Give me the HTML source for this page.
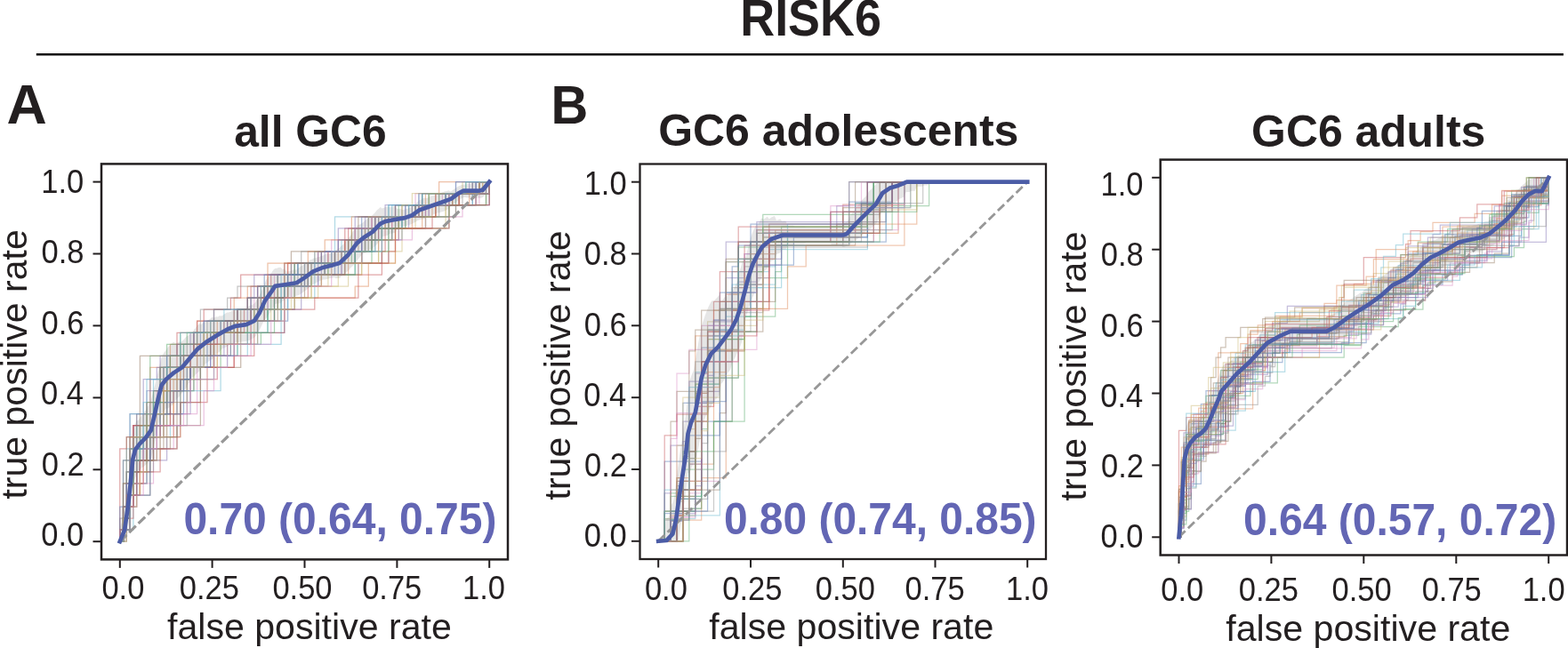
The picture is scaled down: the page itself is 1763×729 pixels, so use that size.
<!DOCTYPE html><html><head><meta charset="utf-8"><style>html,body{margin:0;padding:0;background:#fff;} svg{display:block} text{font-family:"Liberation Sans",Arial,sans-serif;}</style></head><body>
<svg width="1763" height="729" viewBox="0 0 1763 729">
<rect width="1763" height="729" fill="#fff"/>
<g clip-path="url(#clipA)">
<polyline points="134.8,609.2 138.5,609.2 138.5,596.1 142.3,596.1 142.3,583.1 142.3,570.0 149.9,570.0 149.9,557.0 149.9,543.9 153.7,543.9 153.7,530.9 157.4,530.9 157.4,517.8 172.5,517.8 172.5,504.8 172.5,491.7 180.1,491.7 180.1,478.7 180.1,465.6 199.0,465.6 199.0,452.6 199.0,439.5 206.5,439.5 206.5,426.5 210.3,426.5 210.3,413.4 233.0,413.4 233.0,400.4 255.6,400.4 255.6,387.3 282.1,387.3 282.1,374.3 319.8,374.3 319.8,361.2 319.8,348.2 319.8,335.1 319.8,322.1 357.6,322.1 357.6,309.0 380.3,309.0 380.3,296.0 399.2,296.0 399.2,282.9 410.5,282.9 410.5,269.9 452.0,269.9 452.0,256.8 452.0,243.8 463.4,243.8 463.4,230.7 535.1,230.7 535.1,217.7 546.5,217.7 546.5,204.6 550.2,204.6" fill="none" stroke="#4C72B0" stroke-opacity="0.5" stroke-width="1.25"/>
<polyline points="134.8,609.2 138.5,609.2 138.5,596.1 138.5,583.1 138.5,570.0 142.3,570.0 142.3,557.0 142.3,543.9 142.3,530.9 146.1,530.9 146.1,517.8 146.1,504.8 146.1,491.7 165.0,491.7 165.0,478.7 168.8,478.7 168.8,465.6 168.8,452.6 168.8,439.5 168.8,426.5 168.8,413.4 191.4,413.4 191.4,400.4 191.4,387.3 217.9,387.3 217.9,374.3 221.6,374.3 221.6,361.2 240.5,361.2 240.5,348.2 263.2,348.2 263.2,335.1 278.3,335.1 278.3,322.1 319.8,322.1 319.8,309.0 323.6,309.0 323.6,296.0 353.8,296.0 353.8,282.9 391.6,282.9 391.6,269.9 399.2,269.9 399.2,256.8 433.1,256.8 433.1,243.8 478.5,243.8 478.5,230.7 478.5,217.7 542.7,217.7 542.7,204.6 550.2,204.6" fill="none" stroke="#DD8452" stroke-opacity="0.5" stroke-width="1.25"/>
<polyline points="134.8,609.2 138.5,609.2 138.5,596.1 142.3,596.1 142.3,583.1 142.3,570.0 142.3,557.0 142.3,543.9 142.3,530.9 149.9,530.9 149.9,517.8 149.9,504.8 149.9,491.7 153.7,491.7 153.7,478.7 187.6,478.7 187.6,465.6 191.4,465.6 191.4,452.6 191.4,439.5 202.8,439.5 202.8,426.5 225.4,426.5 225.4,413.4 240.5,413.4 240.5,400.4 267.0,400.4 267.0,387.3 293.4,387.3 293.4,374.3 301.0,374.3 301.0,361.2 301.0,348.2 331.2,348.2 331.2,335.1 331.2,322.1 361.4,322.1 361.4,309.0 387.8,309.0 387.8,296.0 387.8,282.9 410.5,282.9 410.5,269.9 410.5,256.8 452.0,256.8 452.0,243.8 463.4,243.8 463.4,230.7 508.7,230.7 508.7,217.7 550.2,217.7 550.2,204.6" fill="none" stroke="#55A868" stroke-opacity="0.5" stroke-width="1.25"/>
<polyline points="134.8,609.2 138.5,609.2 138.5,596.1 142.3,596.1 142.3,583.1 146.1,583.1 146.1,570.0 146.1,557.0 149.9,557.0 149.9,543.9 149.9,530.9 149.9,517.8 149.9,504.8 149.9,491.7 149.9,478.7 180.1,478.7 180.1,465.6 202.8,465.6 202.8,452.6 202.8,439.5 202.8,426.5 214.1,426.5 214.1,413.4 263.2,413.4 263.2,400.4 263.2,387.3 263.2,374.3 263.2,361.2 263.2,348.2 278.3,348.2 278.3,335.1 282.1,335.1 282.1,322.1 304.7,322.1 304.7,309.0 319.8,309.0 319.8,296.0 357.6,296.0 357.6,282.9 387.8,282.9 387.8,269.9 391.6,269.9 391.6,256.8 425.6,256.8 425.6,243.8 459.6,243.8 459.6,230.7 516.2,230.7 516.2,217.7 538.9,217.7 538.9,204.6 550.2,204.6" fill="none" stroke="#C44E52" stroke-opacity="0.5" stroke-width="1.25"/>
<polyline points="134.8,609.2 138.5,609.2 138.5,596.1 138.5,583.1 138.5,570.0 142.3,570.0 142.3,557.0 142.3,543.9 142.3,530.9 149.9,530.9 149.9,517.8 149.9,504.8 149.9,491.7 149.9,478.7 153.7,478.7 153.7,465.6 187.6,465.6 187.6,452.6 187.6,439.5 187.6,426.5 187.6,413.4 187.6,400.4 217.9,400.4 217.9,387.3 217.9,374.3 229.2,374.3 229.2,361.2 278.3,361.2 278.3,348.2 301.0,348.2 301.0,335.1 308.5,335.1 308.5,322.1 342.5,322.1 342.5,309.0 353.8,309.0 353.8,296.0 376.5,296.0 376.5,282.9 399.2,282.9 399.2,269.9 418.0,269.9 418.0,256.8 436.9,256.8 436.9,243.8 478.5,243.8 478.5,230.7 516.2,230.7 516.2,217.7 527.6,217.7 527.6,204.6 550.2,204.6" fill="none" stroke="#8172B3" stroke-opacity="0.5" stroke-width="1.25"/>
<polyline points="134.8,609.2 138.5,609.2 138.5,596.1 146.1,596.1 146.1,583.1 146.1,570.0 146.1,557.0 168.8,557.0 168.8,543.9 168.8,530.9 168.8,517.8 168.8,504.8 168.8,491.7 168.8,478.7 191.4,478.7 191.4,465.6 191.4,452.6 225.4,452.6 225.4,439.5 225.4,426.5 225.4,413.4 240.5,413.4 240.5,400.4 240.5,387.3 278.3,387.3 278.3,374.3 278.3,361.2 316.1,361.2 316.1,348.2 316.1,335.1 342.5,335.1 342.5,322.1 350.1,322.1 350.1,309.0 350.1,296.0 376.5,296.0 376.5,282.9 391.6,282.9 391.6,269.9 414.3,269.9 414.3,256.8 418.0,256.8 418.0,243.8 512.5,243.8 512.5,230.7 512.5,217.7 550.2,217.7 550.2,204.6" fill="none" stroke="#937860" stroke-opacity="0.5" stroke-width="1.25"/>
<polyline points="134.8,609.2 138.5,609.2 138.5,596.1 138.5,583.1 146.1,583.1 146.1,570.0 146.1,557.0 149.9,557.0 149.9,543.9 153.7,543.9 153.7,530.9 153.7,517.8 168.8,517.8 168.8,504.8 168.8,491.7 176.3,491.7 176.3,478.7 176.3,465.6 176.3,452.6 176.3,439.5 199.0,439.5 199.0,426.5 199.0,413.4 202.8,413.4 202.8,400.4 233.0,400.4 233.0,387.3 251.9,387.3 251.9,374.3 267.0,374.3 267.0,361.2 267.0,348.2 301.0,348.2 301.0,335.1 304.7,335.1 304.7,322.1 308.5,322.1 308.5,309.0 365.2,309.0 365.2,296.0 368.9,296.0 368.9,282.9 372.7,282.9 372.7,269.9 406.7,269.9 406.7,256.8 418.0,256.8 418.0,243.8 463.4,243.8 463.4,230.7 467.1,230.7 467.1,217.7 550.2,217.7 550.2,204.6" fill="none" stroke="#DA8BC3" stroke-opacity="0.5" stroke-width="1.25"/>
<polyline points="134.8,609.2 138.5,609.2 138.5,596.1 142.3,596.1 142.3,583.1 146.1,583.1 146.1,570.0 149.9,570.0 149.9,557.0 149.9,543.9 153.7,543.9 153.7,530.9 153.7,517.8 153.7,504.8 157.4,504.8 157.4,491.7 172.5,491.7 172.5,478.7 172.5,465.6 172.5,452.6 183.9,452.6 183.9,439.5 183.9,426.5 183.9,413.4 202.8,413.4 202.8,400.4 202.8,387.3 229.2,387.3 229.2,374.3 248.1,374.3 248.1,361.2 297.2,361.2 297.2,348.2 297.2,335.1 297.2,322.1 334.9,322.1 334.9,309.0 334.9,296.0 436.9,296.0 436.9,282.9 436.9,269.9 436.9,256.8 448.3,256.8 448.3,243.8 470.9,243.8 470.9,230.7 482.2,230.7 482.2,217.7 550.2,217.7 550.2,204.6" fill="none" stroke="#8C8C8C" stroke-opacity="0.5" stroke-width="1.25"/>
<polyline points="134.8,609.2 134.8,596.1 142.3,596.1 142.3,583.1 146.1,583.1 146.1,570.0 146.1,557.0 146.1,543.9 153.7,543.9 153.7,530.9 153.7,517.8 180.1,517.8 180.1,504.8 187.6,504.8 187.6,491.7 202.8,491.7 202.8,478.7 202.8,465.6 202.8,452.6 202.8,439.5 210.3,439.5 210.3,426.5 240.5,426.5 240.5,413.4 240.5,400.4 240.5,387.3 240.5,374.3 270.7,374.3 270.7,361.2 285.8,361.2 285.8,348.2 308.5,348.2 308.5,335.1 323.6,335.1 323.6,322.1 391.6,322.1 391.6,309.0 406.7,309.0 406.7,296.0 425.6,296.0 425.6,282.9 452.0,282.9 452.0,269.9 452.0,256.8 501.1,256.8 501.1,243.8 501.1,230.7 508.7,230.7 508.7,217.7 550.2,217.7 550.2,204.6" fill="none" stroke="#CCB974" stroke-opacity="0.5" stroke-width="1.25"/>
<polyline points="134.8,609.2 138.5,609.2 138.5,596.1 138.5,583.1 138.5,570.0 138.5,557.0 138.5,543.9 142.3,543.9 142.3,530.9 142.3,517.8 142.3,504.8 153.7,504.8 153.7,491.7 153.7,478.7 172.5,478.7 172.5,465.6 180.1,465.6 180.1,452.6 180.1,439.5 180.1,426.5 180.1,413.4 206.5,413.4 206.5,400.4 206.5,387.3 236.7,387.3 236.7,374.3 289.6,374.3 289.6,361.2 289.6,348.2 289.6,335.1 289.6,322.1 331.2,322.1 331.2,309.0 334.9,309.0 334.9,296.0 361.4,296.0 361.4,282.9 384.0,282.9 384.0,269.9 406.7,269.9 406.7,256.8 425.6,256.8 425.6,243.8 440.7,243.8 440.7,230.7 474.7,230.7 474.7,217.7 538.9,217.7 538.9,204.6 550.2,204.6" fill="none" stroke="#64B5CD" stroke-opacity="0.5" stroke-width="1.25"/>
<polyline points="134.8,609.2 138.5,609.2 138.5,596.1 142.3,596.1 142.3,583.1 146.1,583.1 146.1,570.0 146.1,557.0 153.7,557.0 153.7,543.9 153.7,530.9 157.4,530.9 157.4,517.8 165.0,517.8 165.0,504.8 165.0,491.7 168.8,491.7 168.8,478.7 172.5,478.7 172.5,465.6 187.6,465.6 187.6,452.6 187.6,439.5 187.6,426.5 187.6,413.4 206.5,413.4 206.5,400.4 240.5,400.4 240.5,387.3 240.5,374.3 240.5,361.2 297.2,361.2 297.2,348.2 297.2,335.1 297.2,322.1 342.5,322.1 342.5,309.0 384.0,309.0 384.0,296.0 384.0,282.9 414.3,282.9 414.3,269.9 425.6,269.9 425.6,256.8 478.5,256.8 478.5,243.8 482.2,243.8 482.2,230.7 531.3,230.7 531.3,217.7 535.1,217.7 535.1,204.6 550.2,204.6" fill="none" stroke="#4C72B0" stroke-opacity="0.5" stroke-width="1.25"/>
<polyline points="134.8,609.2 138.5,609.2 138.5,596.1 142.3,596.1 142.3,583.1 146.1,583.1 146.1,570.0 146.1,557.0 146.1,543.9 146.1,530.9 146.1,517.8 149.9,517.8 149.9,504.8 161.2,504.8 161.2,491.7 165.0,491.7 165.0,478.7 195.2,478.7 195.2,465.6 195.2,452.6 195.2,439.5 195.2,426.5 244.3,426.5 244.3,413.4 244.3,400.4 244.3,387.3 248.1,387.3 248.1,374.3 251.9,374.3 251.9,361.2 297.2,361.2 297.2,348.2 297.2,335.1 297.2,322.1 319.8,322.1 319.8,309.0 331.2,309.0 331.2,296.0 384.0,296.0 384.0,282.9 387.8,282.9 387.8,269.9 448.3,269.9 448.3,256.8 463.4,256.8 463.4,243.8 474.7,243.8 474.7,230.7 535.1,230.7 535.1,217.7 550.2,217.7 550.2,204.6" fill="none" stroke="#DD8452" stroke-opacity="0.5" stroke-width="1.25"/>
<polyline points="134.8,609.2 138.5,609.2 138.5,596.1 138.5,583.1 146.1,583.1 146.1,570.0 146.1,557.0 146.1,543.9 149.9,543.9 149.9,530.9 157.4,530.9 157.4,517.8 157.4,504.8 168.8,504.8 168.8,491.7 168.8,478.7 168.8,465.6 168.8,452.6 168.8,439.5 168.8,426.5 168.8,413.4 168.8,400.4 187.6,400.4 187.6,387.3 202.8,387.3 202.8,374.3 259.4,374.3 259.4,361.2 301.0,361.2 301.0,348.2 304.7,348.2 304.7,335.1 304.7,322.1 331.2,322.1 331.2,309.0 365.2,309.0 365.2,296.0 406.7,296.0 406.7,282.9 436.9,282.9 436.9,269.9 436.9,256.8 436.9,243.8 470.9,243.8 470.9,230.7 493.6,230.7 493.6,217.7 523.8,217.7 523.8,204.6 550.2,204.6" fill="none" stroke="#55A868" stroke-opacity="0.5" stroke-width="1.25"/>
<polyline points="134.8,609.2 138.5,609.2 138.5,596.1 146.1,596.1 146.1,583.1 146.1,570.0 149.9,570.0 149.9,557.0 149.9,543.9 149.9,530.9 149.9,517.8 149.9,504.8 149.9,491.7 149.9,478.7 165.0,478.7 165.0,465.6 180.1,465.6 180.1,452.6 180.1,439.5 183.9,439.5 183.9,426.5 183.9,413.4 221.6,413.4 221.6,400.4 236.7,400.4 236.7,387.3 240.5,387.3 240.5,374.3 255.6,374.3 255.6,361.2 289.6,361.2 289.6,348.2 289.6,335.1 289.6,322.1 301.0,322.1 301.0,309.0 342.5,309.0 342.5,296.0 361.4,296.0 361.4,282.9 425.6,282.9 425.6,269.9 425.6,256.8 440.7,256.8 440.7,243.8 489.8,243.8 489.8,230.7 508.7,230.7 508.7,217.7 538.9,217.7 538.9,204.6 550.2,204.6" fill="none" stroke="#C44E52" stroke-opacity="0.5" stroke-width="1.25"/>
<polyline points="134.8,609.2 138.5,609.2 138.5,596.1 138.5,583.1 146.1,583.1 146.1,570.0 146.1,557.0 149.9,557.0 149.9,543.9 153.7,543.9 153.7,530.9 153.7,517.8 187.6,517.8 187.6,504.8 187.6,491.7 187.6,478.7 187.6,465.6 214.1,465.6 214.1,452.6 214.1,439.5 214.1,426.5 214.1,413.4 214.1,400.4 214.1,387.3 214.1,374.3 267.0,374.3 267.0,361.2 267.0,348.2 278.3,348.2 278.3,335.1 301.0,335.1 301.0,322.1 327.4,322.1 327.4,309.0 357.6,309.0 357.6,296.0 406.7,296.0 406.7,282.9 406.7,269.9 448.3,269.9 448.3,256.8 459.6,256.8 459.6,243.8 467.1,243.8 467.1,230.7 550.2,230.7 550.2,217.7 550.2,204.6" fill="none" stroke="#8172B3" stroke-opacity="0.5" stroke-width="1.25"/>
<polyline points="134.8,609.2 134.8,596.1 138.5,596.1 138.5,583.1 142.3,583.1 142.3,570.0 146.1,570.0 146.1,557.0 157.4,557.0 157.4,543.9 157.4,530.9 157.4,517.8 168.8,517.8 168.8,504.8 191.4,504.8 191.4,491.7 199.0,491.7 199.0,478.7 202.8,478.7 202.8,465.6 202.8,452.6 210.3,452.6 210.3,439.5 210.3,426.5 214.1,426.5 214.1,413.4 214.1,400.4 240.5,400.4 240.5,387.3 240.5,374.3 240.5,361.2 267.0,361.2 267.0,348.2 312.3,348.2 312.3,335.1 312.3,322.1 312.3,309.0 319.8,309.0 319.8,296.0 327.4,296.0 327.4,282.9 402.9,282.9 402.9,269.9 421.8,269.9 421.8,256.8 436.9,256.8 436.9,243.8 470.9,243.8 470.9,230.7 501.1,230.7 501.1,217.7 550.2,217.7 550.2,204.6" fill="none" stroke="#937860" stroke-opacity="0.5" stroke-width="1.25"/>
<polyline points="134.8,609.2 138.5,609.2 138.5,596.1 142.3,596.1 142.3,583.1 142.3,570.0 153.7,570.0 153.7,557.0 153.7,543.9 153.7,530.9 153.7,517.8 165.0,517.8 165.0,504.8 165.0,491.7 168.8,491.7 168.8,478.7 168.8,465.6 168.8,452.6 168.8,439.5 168.8,426.5 180.1,426.5 180.1,413.4 202.8,413.4 202.8,400.4 221.6,400.4 221.6,387.3 221.6,374.3 270.7,374.3 270.7,361.2 282.1,361.2 282.1,348.2 285.8,348.2 285.8,335.1 319.8,335.1 319.8,322.1 327.4,322.1 327.4,309.0 327.4,296.0 380.3,296.0 380.3,282.9 410.5,282.9 410.5,269.9 410.5,256.8 444.5,256.8 444.5,243.8 478.5,243.8 478.5,230.7 497.4,230.7 497.4,217.7 531.3,217.7 531.3,204.6 550.2,204.6" fill="none" stroke="#DA8BC3" stroke-opacity="0.5" stroke-width="1.25"/>
<polyline points="134.8,609.2 134.8,596.1 134.8,583.1 138.5,583.1 138.5,570.0 146.1,570.0 146.1,557.0 146.1,543.9 146.1,530.9 153.7,530.9 153.7,517.8 153.7,504.8 153.7,491.7 153.7,478.7 153.7,465.6 187.6,465.6 187.6,452.6 187.6,439.5 187.6,426.5 187.6,413.4 191.4,413.4 191.4,400.4 217.9,400.4 217.9,387.3 217.9,374.3 255.6,374.3 255.6,361.2 289.6,361.2 289.6,348.2 293.4,348.2 293.4,335.1 323.6,335.1 323.6,322.1 342.5,322.1 342.5,309.0 350.1,309.0 350.1,296.0 372.7,296.0 372.7,282.9 380.3,282.9 380.3,269.9 421.8,269.9 421.8,256.8 421.8,243.8 512.5,243.8 512.5,230.7 535.1,230.7 535.1,217.7 538.9,217.7 538.9,204.6 550.2,204.6" fill="none" stroke="#8C8C8C" stroke-opacity="0.5" stroke-width="1.25"/>
<polyline points="134.8,609.2 142.3,609.2 142.3,596.1 142.3,583.1 146.1,583.1 146.1,570.0 149.9,570.0 149.9,557.0 157.4,557.0 157.4,543.9 157.4,530.9 157.4,517.8 165.0,517.8 165.0,504.8 168.8,504.8 168.8,491.7 187.6,491.7 187.6,478.7 187.6,465.6 187.6,452.6 187.6,439.5 187.6,426.5 202.8,426.5 202.8,413.4 244.3,413.4 244.3,400.4 248.1,400.4 248.1,387.3 267.0,387.3 267.0,374.3 285.8,374.3 285.8,361.2 304.7,361.2 304.7,348.2 319.8,348.2 319.8,335.1 357.6,335.1 357.6,322.1 380.3,322.1 380.3,309.0 406.7,309.0 406.7,296.0 444.5,296.0 444.5,282.9 444.5,269.9 444.5,256.8 448.3,256.8 448.3,243.8 501.1,243.8 501.1,230.7 512.5,230.7 512.5,217.7 520.0,217.7 520.0,204.6 550.2,204.6" fill="none" stroke="#CCB974" stroke-opacity="0.5" stroke-width="1.25"/>
<polyline points="134.8,609.2 138.5,609.2 138.5,596.1 138.5,583.1 146.1,583.1 146.1,570.0 146.1,557.0 146.1,543.9 149.9,543.9 149.9,530.9 149.9,517.8 149.9,504.8 161.2,504.8 161.2,491.7 161.2,478.7 180.1,478.7 180.1,465.6 180.1,452.6 191.4,452.6 191.4,439.5 191.4,426.5 240.5,426.5 240.5,413.4 240.5,400.4 267.0,400.4 267.0,387.3 267.0,374.3 289.6,374.3 289.6,361.2 316.1,361.2 316.1,348.2 316.1,335.1 316.1,322.1 357.6,322.1 357.6,309.0 365.2,309.0 365.2,296.0 399.2,296.0 399.2,282.9 399.2,269.9 414.3,269.9 414.3,256.8 414.3,243.8 436.9,243.8 436.9,230.7 470.9,230.7 470.9,217.7 531.3,217.7 531.3,204.6 550.2,204.6" fill="none" stroke="#64B5CD" stroke-opacity="0.5" stroke-width="1.25"/>
<polyline points="134.8,609.2 138.5,609.2 138.5,596.1 142.3,596.1 142.3,583.1 142.3,570.0 142.3,557.0 142.3,543.9 165.0,543.9 165.0,530.9 165.0,517.8 168.8,517.8 168.8,504.8 172.5,504.8 172.5,491.7 172.5,478.7 172.5,465.6 187.6,465.6 187.6,452.6 187.6,439.5 202.8,439.5 202.8,426.5 214.1,426.5 214.1,413.4 240.5,413.4 240.5,400.4 259.4,400.4 259.4,387.3 289.6,387.3 289.6,374.3 289.6,361.2 323.6,361.2 323.6,348.2 323.6,335.1 323.6,322.1 323.6,309.0 331.2,309.0 331.2,296.0 387.8,296.0 387.8,282.9 410.5,282.9 410.5,269.9 429.4,269.9 429.4,256.8 429.4,243.8 474.7,243.8 474.7,230.7 501.1,230.7 501.1,217.7 535.1,217.7 535.1,204.6 550.2,204.6" fill="none" stroke="#4C72B0" stroke-opacity="0.5" stroke-width="1.25"/>
<polyline points="134.8,609.2 134.8,596.1 138.5,596.1 138.5,583.1 138.5,570.0 138.5,557.0 138.5,543.9 153.7,543.9 153.7,530.9 153.7,517.8 172.5,517.8 172.5,504.8 172.5,491.7 172.5,478.7 172.5,465.6 172.5,452.6 172.5,439.5 191.4,439.5 191.4,426.5 191.4,413.4 191.4,400.4 199.0,400.4 199.0,387.3 233.0,387.3 233.0,374.3 244.3,374.3 244.3,361.2 282.1,361.2 282.1,348.2 297.2,348.2 297.2,335.1 323.6,335.1 323.6,322.1 361.4,322.1 361.4,309.0 391.6,309.0 391.6,296.0 391.6,282.9 395.4,282.9 395.4,269.9 429.4,269.9 429.4,256.8 448.3,256.8 448.3,243.8 489.8,243.8 489.8,230.7 489.8,217.7 493.6,217.7 493.6,204.6 550.2,204.6" fill="none" stroke="#DD8452" stroke-opacity="0.5" stroke-width="1.25"/>
<polyline points="134.8,609.2 138.5,609.2 138.5,596.1 138.5,583.1 138.5,570.0 138.5,557.0 138.5,543.9 138.5,530.9 138.5,517.8 157.4,517.8 157.4,504.8 157.4,491.7 172.5,491.7 172.5,478.7 172.5,465.6 172.5,452.6 172.5,439.5 217.9,439.5 217.9,426.5 217.9,413.4 248.1,413.4 248.1,400.4 248.1,387.3 251.9,387.3 251.9,374.3 278.3,374.3 278.3,361.2 301.0,361.2 301.0,348.2 312.3,348.2 312.3,335.1 312.3,322.1 312.3,309.0 331.2,309.0 331.2,296.0 395.4,296.0 395.4,282.9 395.4,269.9 395.4,256.8 444.5,256.8 444.5,243.8 444.5,230.7 474.7,230.7 474.7,217.7 550.2,217.7 550.2,204.6" fill="none" stroke="#55A868" stroke-opacity="0.5" stroke-width="1.25"/>
<polyline points="134.8,609.2 134.8,596.1 134.8,583.1 134.8,570.0 134.8,557.0 134.8,543.9 134.8,530.9 134.8,517.8 134.8,504.8 142.3,504.8 142.3,491.7 149.9,491.7 149.9,478.7 161.2,478.7 161.2,465.6 165.0,465.6 165.0,452.6 180.1,452.6 180.1,439.5 180.1,426.5 180.1,413.4 199.0,413.4 199.0,400.4 199.0,387.3 199.0,374.3 221.6,374.3 221.6,361.2 229.2,361.2 229.2,348.2 259.4,348.2 259.4,335.1 270.7,335.1 270.7,322.1 270.7,309.0 323.6,309.0 323.6,296.0 368.9,296.0 368.9,282.9 387.8,282.9 387.8,269.9 387.8,256.8 421.8,256.8 421.8,243.8 444.5,243.8 444.5,230.7 489.8,230.7 489.8,217.7 538.9,217.7 538.9,204.6 550.2,204.6" fill="none" stroke="#C44E52" stroke-opacity="0.5" stroke-width="1.25"/>
<polyline points="134.8,609.2 138.5,609.2 138.5,596.1 142.3,596.1 142.3,583.1 146.1,583.1 146.1,570.0 146.1,557.0 146.1,543.9 146.1,530.9 146.1,517.8 146.1,504.8 149.9,504.8 149.9,491.7 165.0,491.7 165.0,478.7 165.0,465.6 165.0,452.6 165.0,439.5 180.1,439.5 180.1,426.5 187.6,426.5 187.6,413.4 187.6,400.4 251.9,400.4 251.9,387.3 251.9,374.3 251.9,361.2 267.0,361.2 267.0,348.2 282.1,348.2 282.1,335.1 285.8,335.1 285.8,322.1 285.8,309.0 346.3,309.0 346.3,296.0 357.6,296.0 357.6,282.9 399.2,282.9 399.2,269.9 410.5,269.9 410.5,256.8 410.5,243.8 433.1,243.8 433.1,230.7 470.9,230.7 470.9,217.7 535.1,217.7 535.1,204.6 550.2,204.6" fill="none" stroke="#8172B3" stroke-opacity="0.5" stroke-width="1.25"/>
<polyline points="134.8,609.2 138.5,609.2 138.5,596.1 138.5,583.1 142.3,583.1 142.3,570.0 146.1,570.0 146.1,557.0 146.1,543.9 149.9,543.9 149.9,530.9 168.8,530.9 168.8,517.8 172.5,517.8 172.5,504.8 183.9,504.8 183.9,491.7 183.9,478.7 225.4,478.7 225.4,465.6 225.4,452.6 225.4,439.5 225.4,426.5 225.4,413.4 270.7,413.4 270.7,400.4 270.7,387.3 270.7,374.3 270.7,361.2 312.3,361.2 312.3,348.2 312.3,335.1 312.3,322.1 346.3,322.1 346.3,309.0 346.3,296.0 399.2,296.0 399.2,282.9 418.0,282.9 418.0,269.9 418.0,256.8 433.1,256.8 433.1,243.8 452.0,243.8 452.0,230.7 516.2,230.7 516.2,217.7 550.2,217.7 550.2,204.6" fill="none" stroke="#937860" stroke-opacity="0.5" stroke-width="1.25"/>
<polyline points="134.8,609.2 138.5,609.2 138.5,596.1 146.1,596.1 146.1,583.1 146.1,570.0 153.7,570.0 153.7,557.0 153.7,543.9 172.5,543.9 172.5,530.9 172.5,517.8 172.5,504.8 195.2,504.8 195.2,491.7 195.2,478.7 195.2,465.6 221.6,465.6 221.6,452.6 221.6,439.5 221.6,426.5 221.6,413.4 221.6,400.4 221.6,387.3 244.3,387.3 244.3,374.3 259.4,374.3 259.4,361.2 285.8,361.2 285.8,348.2 297.2,348.2 297.2,335.1 297.2,322.1 361.4,322.1 361.4,309.0 402.9,309.0 402.9,296.0 429.4,296.0 429.4,282.9 429.4,269.9 463.4,269.9 463.4,256.8 478.5,256.8 478.5,243.8 482.2,243.8 482.2,230.7 538.9,230.7 538.9,217.7 550.2,217.7 550.2,204.6" fill="none" stroke="#DA8BC3" stroke-opacity="0.5" stroke-width="1.25"/>
<polyline points="134.8,609.2 138.5,609.2 138.5,596.1 138.5,583.1 146.1,583.1 146.1,570.0 153.7,570.0 153.7,557.0 153.7,543.9 165.0,543.9 165.0,530.9 172.5,530.9 172.5,517.8 172.5,504.8 199.0,504.8 199.0,491.7 199.0,478.7 210.3,478.7 210.3,465.6 210.3,452.6 210.3,439.5 210.3,426.5 210.3,413.4 229.2,413.4 229.2,400.4 229.2,387.3 233.0,387.3 233.0,374.3 233.0,361.2 263.2,361.2 263.2,348.2 289.6,348.2 289.6,335.1 289.6,322.1 323.6,322.1 323.6,309.0 327.4,309.0 327.4,296.0 361.4,296.0 361.4,282.9 421.8,282.9 421.8,269.9 440.7,269.9 440.7,256.8 455.8,256.8 455.8,243.8 493.6,243.8 493.6,230.7 550.2,230.7 550.2,217.7 550.2,204.6" fill="none" stroke="#8C8C8C" stroke-opacity="0.5" stroke-width="1.25"/>
<polyline points="134.8,609.2 138.5,609.2 138.5,596.1 142.3,596.1 142.3,583.1 142.3,570.0 142.3,557.0 142.3,543.9 161.2,543.9 161.2,530.9 161.2,517.8 161.2,504.8 165.0,504.8 165.0,491.7 172.5,491.7 172.5,478.7 176.3,478.7 176.3,465.6 183.9,465.6 183.9,452.6 183.9,439.5 214.1,439.5 214.1,426.5 217.9,426.5 217.9,413.4 240.5,413.4 240.5,400.4 255.6,400.4 255.6,387.3 289.6,387.3 289.6,374.3 289.6,361.2 308.5,361.2 308.5,348.2 308.5,335.1 308.5,322.1 368.9,322.1 368.9,309.0 368.9,296.0 380.3,296.0 380.3,282.9 410.5,282.9 410.5,269.9 410.5,256.8 467.1,256.8 467.1,243.8 467.1,230.7 482.2,230.7 482.2,217.7 531.3,217.7 531.3,204.6 550.2,204.6" fill="none" stroke="#CCB974" stroke-opacity="0.5" stroke-width="1.25"/>
<polyline points="134.8,609.2 138.5,609.2 138.5,596.1 149.9,596.1 149.9,583.1 149.9,570.0 149.9,557.0 153.7,557.0 153.7,543.9 153.7,530.9 153.7,517.8 157.4,517.8 157.4,504.8 180.1,504.8 180.1,491.7 191.4,491.7 191.4,478.7 202.8,478.7 202.8,465.6 202.8,452.6 202.8,439.5 248.1,439.5 248.1,426.5 248.1,413.4 255.6,413.4 255.6,400.4 278.3,400.4 278.3,387.3 316.1,387.3 316.1,374.3 316.1,361.2 316.1,348.2 323.6,348.2 323.6,335.1 353.8,335.1 353.8,322.1 353.8,309.0 399.2,309.0 399.2,296.0 399.2,282.9 421.8,282.9 421.8,269.9 440.7,269.9 440.7,256.8 452.0,256.8 452.0,243.8 459.6,243.8 459.6,230.7 531.3,230.7 531.3,217.7 538.9,217.7 538.9,204.6 550.2,204.6" fill="none" stroke="#64B5CD" stroke-opacity="0.5" stroke-width="1.25"/>
<polyline points="134.8,609.2 134.8,596.1 134.8,583.1 134.8,570.0 142.3,570.0 142.3,557.0 142.3,543.9 146.1,543.9 146.1,530.9 146.1,517.8 161.2,517.8 161.2,504.8 161.2,491.7 176.3,491.7 176.3,478.7 195.2,478.7 195.2,465.6 206.5,465.6 206.5,452.6 206.5,439.5 206.5,426.5 206.5,413.4 206.5,400.4 225.4,400.4 225.4,387.3 225.4,374.3 229.2,374.3 229.2,361.2 240.5,361.2 240.5,348.2 278.3,348.2 278.3,335.1 297.2,335.1 297.2,322.1 297.2,309.0 334.9,309.0 334.9,296.0 406.7,296.0 406.7,282.9 406.7,269.9 414.3,269.9 414.3,256.8 421.8,256.8 421.8,243.8 467.1,243.8 467.1,230.7 504.9,230.7 504.9,217.7 550.2,217.7 550.2,204.6" fill="none" stroke="#4C72B0" stroke-opacity="0.5" stroke-width="1.25"/>
<polyline points="134.8,609.2 138.5,609.2 138.5,596.1 142.3,596.1 142.3,583.1 142.3,570.0 149.9,570.0 149.9,557.0 157.4,557.0 157.4,543.9 157.4,530.9 161.2,530.9 161.2,517.8 176.3,517.8 176.3,504.8 180.1,504.8 180.1,491.7 195.2,491.7 195.2,478.7 195.2,465.6 195.2,452.6 195.2,439.5 202.8,439.5 202.8,426.5 202.8,413.4 240.5,413.4 240.5,400.4 240.5,387.3 282.1,387.3 282.1,374.3 282.1,361.2 308.5,361.2 308.5,348.2 331.2,348.2 331.2,335.1 399.2,335.1 399.2,322.1 414.3,322.1 414.3,309.0 414.3,296.0 444.5,296.0 444.5,282.9 444.5,269.9 444.5,256.8 474.7,256.8 474.7,243.8 486.0,243.8 486.0,230.7 527.6,230.7 527.6,217.7 538.9,217.7 538.9,204.6 550.2,204.6" fill="none" stroke="#DD8452" stroke-opacity="0.5" stroke-width="1.25"/>
<polyline points="134.8,609.2 134.8,596.1 142.3,596.1 142.3,583.1 142.3,570.0 146.1,570.0 146.1,557.0 146.1,543.9 146.1,530.9 146.1,517.8 146.1,504.8 157.4,504.8 157.4,491.7 157.4,478.7 172.5,478.7 172.5,465.6 172.5,452.6 187.6,452.6 187.6,439.5 187.6,426.5 187.6,413.4 202.8,413.4 202.8,400.4 206.5,400.4 206.5,387.3 210.3,387.3 210.3,374.3 263.2,374.3 263.2,361.2 285.8,361.2 285.8,348.2 297.2,348.2 297.2,335.1 297.2,322.1 338.7,322.1 338.7,309.0 368.9,309.0 368.9,296.0 418.0,296.0 418.0,282.9 418.0,269.9 418.0,256.8 448.3,256.8 448.3,243.8 448.3,230.7 482.2,230.7 482.2,217.7 550.2,217.7 550.2,204.6" fill="none" stroke="#55A868" stroke-opacity="0.5" stroke-width="1.25"/>
<polyline points="134.8,609.2 134.8,596.1 142.3,596.1 142.3,583.1 149.9,583.1 149.9,570.0 149.9,557.0 157.4,557.0 157.4,543.9 161.2,543.9 161.2,530.9 180.1,530.9 180.1,517.8 180.1,504.8 199.0,504.8 199.0,491.7 202.8,491.7 202.8,478.7 202.8,465.6 202.8,452.6 233.0,452.6 233.0,439.5 233.0,426.5 233.0,413.4 263.2,413.4 263.2,400.4 285.8,400.4 285.8,387.3 285.8,374.3 319.8,374.3 319.8,361.2 319.8,348.2 353.8,348.2 353.8,335.1 402.9,335.1 402.9,322.1 402.9,309.0 429.4,309.0 429.4,296.0 429.4,282.9 433.1,282.9 433.1,269.9 433.1,256.8 504.9,256.8 504.9,243.8 504.9,230.7 516.2,230.7 516.2,217.7 550.2,217.7 550.2,204.6" fill="none" stroke="#C44E52" stroke-opacity="0.5" stroke-width="1.25"/>
<polyline points="134.8,609.2 138.5,609.2 138.5,596.1 142.3,596.1 142.3,583.1 142.3,570.0 142.3,557.0 142.3,543.9 146.1,543.9 146.1,530.9 146.1,517.8 146.1,504.8 146.1,491.7 146.1,478.7 146.1,465.6 161.2,465.6 161.2,452.6 161.2,439.5 161.2,426.5 176.3,426.5 176.3,413.4 180.1,413.4 180.1,400.4 199.0,400.4 199.0,387.3 217.9,387.3 217.9,374.3 255.6,374.3 255.6,361.2 282.1,361.2 282.1,348.2 282.1,335.1 289.6,335.1 289.6,322.1 312.3,322.1 312.3,309.0 361.4,309.0 361.4,296.0 361.4,282.9 380.3,282.9 380.3,269.9 380.3,256.8 414.3,256.8 414.3,243.8 444.5,243.8 444.5,230.7 501.1,230.7 501.1,217.7 531.3,217.7 531.3,204.6 550.2,204.6" fill="none" stroke="#8172B3" stroke-opacity="0.5" stroke-width="1.25"/>
<polyline points="134.8,609.2 142.3,609.2 142.3,596.1 146.1,596.1 146.1,583.1 146.1,570.0 149.9,570.0 149.9,557.0 149.9,543.9 149.9,530.9 165.0,530.9 165.0,517.8 172.5,517.8 172.5,504.8 172.5,491.7 199.0,491.7 199.0,478.7 199.0,465.6 199.0,452.6 199.0,439.5 199.0,426.5 199.0,413.4 202.8,413.4 202.8,400.4 217.9,400.4 217.9,387.3 229.2,387.3 229.2,374.3 267.0,374.3 267.0,361.2 267.0,348.2 278.3,348.2 278.3,335.1 331.2,335.1 331.2,322.1 346.3,322.1 346.3,309.0 402.9,309.0 402.9,296.0 429.4,296.0 429.4,282.9 429.4,269.9 440.7,269.9 440.7,256.8 504.9,256.8 504.9,243.8 504.9,230.7 546.5,230.7 546.5,217.7 550.2,217.7 550.2,204.6" fill="none" stroke="#937860" stroke-opacity="0.5" stroke-width="1.25"/>
<polyline points="134.8,609.2 138.5,609.2 138.5,596.1 142.3,596.1 142.3,583.1 142.3,570.0 149.9,570.0 149.9,557.0 149.9,543.9 157.4,543.9 157.4,530.9 157.4,517.8 161.2,517.8 161.2,504.8 176.3,504.8 176.3,491.7 183.9,491.7 183.9,478.7 229.2,478.7 229.2,465.6 229.2,452.6 229.2,439.5 240.5,439.5 240.5,426.5 240.5,413.4 240.5,400.4 282.1,400.4 282.1,387.3 282.1,374.3 282.1,361.2 308.5,361.2 308.5,348.2 308.5,335.1 308.5,322.1 357.6,322.1 357.6,309.0 384.0,309.0 384.0,296.0 406.7,296.0 406.7,282.9 406.7,269.9 429.4,269.9 429.4,256.8 440.7,256.8 440.7,243.8 520.0,243.8 520.0,230.7 535.1,230.7 535.1,217.7 550.2,217.7 550.2,204.6" fill="none" stroke="#DA8BC3" stroke-opacity="0.5" stroke-width="1.25"/>
<polyline points="134.8,609.2 138.5,609.2 138.5,596.1 138.5,583.1 138.5,570.0 146.1,570.0 146.1,557.0 146.1,543.9 149.9,543.9 149.9,530.9 149.9,517.8 176.3,517.8 176.3,504.8 176.3,491.7 180.1,491.7 180.1,478.7 180.1,465.6 202.8,465.6 202.8,452.6 214.1,452.6 214.1,439.5 217.9,439.5 217.9,426.5 225.4,426.5 225.4,413.4 225.4,400.4 259.4,400.4 259.4,387.3 259.4,374.3 259.4,361.2 282.1,361.2 282.1,348.2 282.1,335.1 301.0,335.1 301.0,322.1 331.2,322.1 331.2,309.0 338.7,309.0 338.7,296.0 338.7,282.9 391.6,282.9 391.6,269.9 421.8,269.9 421.8,256.8 444.5,256.8 444.5,243.8 470.9,243.8 470.9,230.7 520.0,230.7 520.0,217.7 550.2,217.7 550.2,204.6" fill="none" stroke="#8C8C8C" stroke-opacity="0.5" stroke-width="1.25"/>
<polyline points="134.8,609.2 138.5,609.2 138.5,596.1 138.5,583.1 142.3,583.1 142.3,570.0 153.7,570.0 153.7,557.0 157.4,557.0 157.4,543.9 157.4,530.9 165.0,530.9 165.0,517.8 165.0,504.8 165.0,491.7 165.0,478.7 165.0,465.6 183.9,465.6 183.9,452.6 183.9,439.5 199.0,439.5 199.0,426.5 199.0,413.4 221.6,413.4 221.6,400.4 221.6,387.3 233.0,387.3 233.0,374.3 267.0,374.3 267.0,361.2 319.8,361.2 319.8,348.2 319.8,335.1 350.1,335.1 350.1,322.1 361.4,322.1 361.4,309.0 365.2,309.0 365.2,296.0 425.6,296.0 425.6,282.9 425.6,269.9 444.5,269.9 444.5,256.8 478.5,256.8 478.5,243.8 489.8,243.8 489.8,230.7 501.1,230.7 501.1,217.7 542.7,217.7 542.7,204.6 550.2,204.6" fill="none" stroke="#CCB974" stroke-opacity="0.5" stroke-width="1.25"/>
<polyline points="134.8,609.2 138.5,609.2 138.5,596.1 146.1,596.1 146.1,583.1 146.1,570.0 146.1,557.0 146.1,543.9 146.1,530.9 146.1,517.8 146.1,504.8 146.1,491.7 146.1,478.7 146.1,465.6 172.5,465.6 172.5,452.6 172.5,439.5 172.5,426.5 187.6,426.5 187.6,413.4 187.6,400.4 233.0,400.4 233.0,387.3 278.3,387.3 278.3,374.3 301.0,374.3 301.0,361.2 301.0,348.2 316.1,348.2 316.1,335.1 316.1,322.1 316.1,309.0 342.5,309.0 342.5,296.0 353.8,296.0 353.8,282.9 376.5,282.9 376.5,269.9 376.5,256.8 376.5,243.8 436.9,243.8 436.9,230.7 512.5,230.7 512.5,217.7 512.5,204.6 550.2,204.6" fill="none" stroke="#64B5CD" stroke-opacity="0.5" stroke-width="1.25"/>
<polyline points="134.8,609.2 138.5,609.2 138.5,596.1 138.5,583.1 138.5,570.0 146.1,570.0 146.1,557.0 168.8,557.0 168.8,543.9 168.8,530.9 168.8,517.8 168.8,504.8 168.8,491.7 172.5,491.7 172.5,478.7 183.9,478.7 183.9,465.6 191.4,465.6 191.4,452.6 191.4,439.5 202.8,439.5 202.8,426.5 214.1,426.5 214.1,413.4 236.7,413.4 236.7,400.4 236.7,387.3 236.7,374.3 248.1,374.3 248.1,361.2 308.5,361.2 308.5,348.2 308.5,335.1 319.8,335.1 319.8,322.1 323.6,322.1 323.6,309.0 376.5,309.0 376.5,296.0 376.5,282.9 406.7,282.9 406.7,269.9 406.7,256.8 406.7,243.8 455.8,243.8 455.8,230.7 474.7,230.7 474.7,217.7 550.2,217.7 550.2,204.6" fill="none" stroke="#4C72B0" stroke-opacity="0.5" stroke-width="1.25"/>
<polyline points="134.8,609.2 138.5,609.2 138.5,596.1 138.5,583.1 138.5,570.0 142.3,570.0 142.3,557.0 146.1,557.0 146.1,543.9 146.1,530.9 146.1,517.8 146.1,504.8 146.1,491.7 157.4,491.7 157.4,478.7 183.9,478.7 183.9,465.6 183.9,452.6 183.9,439.5 187.6,439.5 187.6,426.5 206.5,426.5 206.5,413.4 206.5,400.4 225.4,400.4 225.4,387.3 267.0,387.3 267.0,374.3 267.0,361.2 282.1,361.2 282.1,348.2 289.6,348.2 289.6,335.1 301.0,335.1 301.0,322.1 301.0,309.0 301.0,296.0 346.3,296.0 346.3,282.9 365.2,282.9 365.2,269.9 395.4,269.9 395.4,256.8 395.4,243.8 474.7,243.8 474.7,230.7 516.2,230.7 516.2,217.7 550.2,217.7 550.2,204.6" fill="none" stroke="#DD8452" stroke-opacity="0.5" stroke-width="1.25"/>
<polyline points="134.8,609.2 138.5,609.2 138.5,596.1 142.3,596.1 142.3,583.1 142.3,570.0 149.9,570.0 149.9,557.0 149.9,543.9 149.9,530.9 149.9,517.8 165.0,517.8 165.0,504.8 165.0,491.7 165.0,478.7 165.0,465.6 165.0,452.6 180.1,452.6 180.1,439.5 180.1,426.5 180.1,413.4 191.4,413.4 191.4,400.4 202.8,400.4 202.8,387.3 221.6,387.3 221.6,374.3 308.5,374.3 308.5,361.2 308.5,348.2 308.5,335.1 319.8,335.1 319.8,322.1 350.1,322.1 350.1,309.0 399.2,309.0 399.2,296.0 399.2,282.9 418.0,282.9 418.0,269.9 429.4,269.9 429.4,256.8 455.8,256.8 455.8,243.8 504.9,243.8 504.9,230.7 546.5,230.7 546.5,217.7 550.2,217.7 550.2,204.6" fill="none" stroke="#55A868" stroke-opacity="0.5" stroke-width="1.25"/>
<polyline points="134.8,609.2 138.5,609.2 138.5,596.1 146.1,596.1 146.1,583.1 146.1,570.0 149.9,570.0 149.9,557.0 153.7,557.0 153.7,543.9 153.7,530.9 157.4,530.9 157.4,517.8 165.0,517.8 165.0,504.8 165.0,491.7 180.1,491.7 180.1,478.7 191.4,478.7 191.4,465.6 191.4,452.6 191.4,439.5 191.4,426.5 191.4,413.4 214.1,413.4 214.1,400.4 217.9,400.4 217.9,387.3 244.3,387.3 244.3,374.3 274.5,374.3 274.5,361.2 274.5,348.2 289.6,348.2 289.6,335.1 346.3,335.1 346.3,322.1 346.3,309.0 387.8,309.0 387.8,296.0 436.9,296.0 436.9,282.9 444.5,282.9 444.5,269.9 444.5,256.8 486.0,256.8 486.0,243.8 489.8,243.8 489.8,230.7 550.2,230.7 550.2,217.7 550.2,204.6" fill="none" stroke="#C44E52" stroke-opacity="0.5" stroke-width="1.25"/>
<polyline points="134.8,609.2 134.8,596.1 138.5,596.1 138.5,583.1 138.5,570.0 138.5,557.0 138.5,543.9 138.5,530.9 138.5,517.8 153.7,517.8 153.7,504.8 165.0,504.8 165.0,491.7 176.3,491.7 176.3,478.7 183.9,478.7 183.9,465.6 183.9,452.6 195.2,452.6 195.2,439.5 214.1,439.5 214.1,426.5 214.1,413.4 236.7,413.4 236.7,400.4 263.2,400.4 263.2,387.3 263.2,374.3 263.2,361.2 282.1,361.2 282.1,348.2 338.7,348.2 338.7,335.1 338.7,322.1 338.7,309.0 365.2,309.0 365.2,296.0 365.2,282.9 380.3,282.9 380.3,269.9 399.2,269.9 399.2,256.8 399.2,243.8 455.8,243.8 455.8,230.7 501.1,230.7 501.1,217.7 512.5,217.7 512.5,204.6 550.2,204.6" fill="none" stroke="#8172B3" stroke-opacity="0.5" stroke-width="1.25"/>
<polyline points="134.8,609.2 134.8,596.1 138.5,596.1 138.5,583.1 138.5,570.0 138.5,557.0 138.5,543.9 142.3,543.9 142.3,530.9 142.3,517.8 142.3,504.8 142.3,491.7 157.4,491.7 157.4,478.7 157.4,465.6 157.4,452.6 157.4,439.5 157.4,426.5 157.4,413.4 157.4,400.4 236.7,400.4 236.7,387.3 236.7,374.3 236.7,361.2 270.7,361.2 270.7,348.2 293.4,348.2 293.4,335.1 293.4,322.1 338.7,322.1 338.7,309.0 346.3,309.0 346.3,296.0 376.5,296.0 376.5,282.9 391.6,282.9 391.6,269.9 402.9,269.9 402.9,256.8 402.9,243.8 467.1,243.8 467.1,230.7 504.9,230.7 504.9,217.7 546.5,217.7 546.5,204.6 550.2,204.6" fill="none" stroke="#937860" stroke-opacity="0.5" stroke-width="1.25"/>
<polyline points="134.8,609.2 134.8,596.1 142.3,596.1 142.3,583.1 142.3,570.0 149.9,570.0 149.9,557.0 161.2,557.0 161.2,543.9 161.2,530.9 161.2,517.8 161.2,504.8 176.3,504.8 176.3,491.7 176.3,478.7 206.5,478.7 206.5,465.6 210.3,465.6 210.3,452.6 214.1,452.6 214.1,439.5 214.1,426.5 244.3,426.5 244.3,413.4 255.6,413.4 255.6,400.4 255.6,387.3 304.7,387.3 304.7,374.3 304.7,361.2 319.8,361.2 319.8,348.2 319.8,335.1 327.4,335.1 327.4,322.1 372.7,322.1 372.7,309.0 372.7,296.0 372.7,282.9 399.2,282.9 399.2,269.9 399.2,256.8 418.0,256.8 418.0,243.8 470.9,243.8 470.9,230.7 504.9,230.7 504.9,217.7 550.2,217.7 550.2,204.6" fill="none" stroke="#DA8BC3" stroke-opacity="0.5" stroke-width="1.25"/>
<polyline points="134.8,609.2 138.5,609.2 138.5,596.1 138.5,583.1 146.1,583.1 146.1,570.0 146.1,557.0 146.1,543.9 146.1,530.9 146.1,517.8 146.1,504.8 153.7,504.8 153.7,491.7 183.9,491.7 183.9,478.7 183.9,465.6 187.6,465.6 187.6,452.6 187.6,439.5 187.6,426.5 191.4,426.5 191.4,413.4 202.8,413.4 202.8,400.4 210.3,400.4 210.3,387.3 221.6,387.3 221.6,374.3 225.4,374.3 225.4,361.2 225.4,348.2 255.6,348.2 255.6,335.1 267.0,335.1 267.0,322.1 319.8,322.1 319.8,309.0 327.4,309.0 327.4,296.0 384.0,296.0 384.0,282.9 418.0,282.9 418.0,269.9 418.0,256.8 425.6,256.8 425.6,243.8 467.1,243.8 467.1,230.7 493.6,230.7 493.6,217.7 550.2,217.7 550.2,204.6" fill="none" stroke="#8C8C8C" stroke-opacity="0.5" stroke-width="1.25"/>
<polyline points="134.8,609.2 138.5,609.2 138.5,596.1 138.5,583.1 142.3,583.1 142.3,570.0 146.1,570.0 146.1,557.0 149.9,557.0 149.9,543.9 149.9,530.9 149.9,517.8 149.9,504.8 149.9,491.7 183.9,491.7 183.9,478.7 183.9,465.6 183.9,452.6 183.9,439.5 183.9,426.5 191.4,426.5 191.4,413.4 229.2,413.4 229.2,400.4 229.2,387.3 229.2,374.3 263.2,374.3 263.2,361.2 285.8,361.2 285.8,348.2 327.4,348.2 327.4,335.1 350.1,335.1 350.1,322.1 350.1,309.0 372.7,309.0 372.7,296.0 406.7,296.0 406.7,282.9 414.3,282.9 414.3,269.9 414.3,256.8 414.3,243.8 452.0,243.8 452.0,230.7 463.4,230.7 463.4,217.7 538.9,217.7 538.9,204.6 550.2,204.6" fill="none" stroke="#CCB974" stroke-opacity="0.5" stroke-width="1.25"/>
<polyline points="134.8,609.2 138.5,609.2 138.5,596.1 146.1,596.1 146.1,583.1 146.1,570.0 146.1,557.0 146.1,543.9 149.9,543.9 149.9,530.9 149.9,517.8 149.9,504.8 161.2,504.8 161.2,491.7 161.2,478.7 161.2,465.6 161.2,452.6 165.0,452.6 165.0,439.5 165.0,426.5 183.9,426.5 183.9,413.4 202.8,413.4 202.8,400.4 202.8,387.3 202.8,374.3 236.7,374.3 236.7,361.2 251.9,361.2 251.9,348.2 289.6,348.2 289.6,335.1 293.4,335.1 293.4,322.1 346.3,322.1 346.3,309.0 353.8,309.0 353.8,296.0 372.7,296.0 372.7,282.9 429.4,282.9 429.4,269.9 429.4,256.8 429.4,243.8 459.6,243.8 459.6,230.7 501.1,230.7 501.1,217.7 523.8,217.7 523.8,204.6 550.2,204.6" fill="none" stroke="#64B5CD" stroke-opacity="0.5" stroke-width="1.25"/>
<polygon points="134.8,593.1 136.8,588.0 138.9,576.3 141.0,566.8 143.1,548.3 145.2,531.2 147.2,508.0 149.3,485.7 151.4,478.2 153.5,473.4 155.5,473.0 157.6,469.2 159.7,467.1 161.8,464.0 163.9,461.8 165.9,457.5 168.0,454.6 170.1,449.3 172.2,440.6 174.2,433.0 176.3,424.4 178.4,415.5 180.5,405.8 182.6,399.8 184.6,396.6 186.7,393.9 188.8,390.5 190.9,388.8 192.9,386.4 195.0,384.7 197.1,385.9 199.2,385.8 201.2,384.4 203.3,385.1 205.4,383.3 207.5,381.0 209.6,378.5 211.6,377.8 213.7,375.3 215.8,374.8 217.9,371.3 219.9,369.0 222.0,366.1 224.1,364.3 226.2,365.1 228.2,363.4 230.3,362.2 232.4,360.7 234.5,360.0 236.6,358.6 238.6,356.8 240.7,357.7 242.8,356.3 244.9,356.5 246.9,355.3 249.0,355.6 251.1,354.4 253.2,352.8 255.3,351.6 257.3,351.4 259.4,350.4 261.5,349.5 263.6,349.3 265.6,348.7 267.7,348.0 269.8,347.7 271.9,347.3 273.9,347.1 276.0,346.7 278.1,346.0 280.2,344.3 282.3,343.5 284.3,342.5 286.4,340.9 288.5,337.8 290.6,334.3 292.6,330.5 294.7,325.7 296.8,321.1 298.9,315.5 301.0,312.2 303.0,309.3 305.1,306.9 307.2,303.8 309.3,302.0 311.3,301.7 313.4,301.1 315.5,300.8 317.6,303.0 319.6,302.6 321.7,305.3 323.8,305.6 325.9,305.3 328.0,304.0 330.0,303.6 332.1,303.7 334.2,303.0 336.3,300.9 338.3,299.6 340.4,298.4 342.5,297.1 344.6,295.6 346.7,294.0 348.7,292.5 350.8,291.8 352.9,290.6 355.0,290.2 357.0,289.3 359.1,288.9 361.2,288.1 363.3,287.4 365.4,286.4 367.4,285.8 369.5,285.4 371.6,284.9 373.7,284.0 375.7,283.4 377.8,280.9 379.9,280.3 382.0,278.5 384.0,276.6 386.1,274.7 388.2,272.1 390.3,270.2 392.4,267.5 394.4,264.8 396.5,260.7 398.6,257.9 400.7,255.1 402.7,253.0 404.8,252.4 406.9,251.3 409.0,249.6 411.1,247.5 413.1,246.2 415.2,244.7 417.3,243.4 419.4,241.6 421.4,239.4 423.5,236.8 425.6,235.1 427.7,232.9 429.7,234.6 431.8,233.7 433.9,232.8 436.0,232.4 438.1,233.2 440.1,232.8 442.2,232.5 444.3,232.1 446.4,235.0 448.4,235.3 450.5,235.0 452.6,236.2 454.7,235.8 456.8,235.1 458.8,234.4 460.9,233.4 463.0,232.7 465.1,231.3 467.1,229.2 469.2,227.7 471.3,225.3 473.4,224.5 475.4,223.3 477.5,222.6 479.6,222.9 481.7,222.2 483.8,221.0 485.8,220.3 487.9,220.1 490.0,219.6 492.1,218.9 494.1,217.6 496.2,216.8 498.3,216.0 500.4,215.2 502.4,214.9 504.5,214.2 506.6,215.6 508.7,214.3 510.8,212.7 512.8,211.4 514.9,209.8 517.0,209.1 519.1,208.0 521.1,207.5 523.2,207.5 525.3,206.9 527.4,206.9 529.5,206.8 531.5,206.3 533.6,206.3 535.7,206.8 537.8,206.7 539.8,205.9 541.9,205.6 544.0,204.6 546.1,204.6 548.1,204.6 550.2,204.6 550.2,204.6 548.1,215.1 546.1,218.4 544.0,221.0 541.9,222.6 539.8,222.9 537.8,222.7 535.7,222.7 533.6,223.2 531.5,223.2 529.5,222.7 527.4,222.6 525.3,222.6 523.2,222.0 521.1,222.0 519.1,223.2 517.0,224.3 514.9,226.0 512.8,227.6 510.8,229.4 508.7,231.0 506.6,232.3 504.5,235.2 502.4,236.0 500.4,237.1 498.3,237.9 496.2,238.5 494.1,239.3 492.1,239.4 490.0,240.2 487.9,241.1 485.8,242.4 483.8,243.2 481.7,243.4 479.6,244.1 477.5,245.9 475.4,246.6 473.4,246.8 471.3,247.6 469.2,248.3 467.1,249.8 465.1,250.8 463.0,252.1 460.9,252.8 458.8,253.2 456.8,253.9 454.7,254.5 452.6,254.9 450.5,256.8 448.4,257.2 446.4,258.3 444.3,261.9 442.2,262.2 440.1,262.7 438.1,263.1 436.0,264.8 433.9,265.2 431.8,265.7 429.7,266.6 427.7,270.2 425.6,272.4 423.5,275.2 421.4,277.0 419.4,279.2 417.3,280.5 415.2,281.8 413.1,283.1 411.1,284.4 409.0,285.0 406.9,286.7 404.8,289.0 402.7,291.8 400.7,293.9 398.6,296.7 396.5,299.5 394.4,300.9 392.4,303.7 390.3,305.6 388.2,307.6 386.1,308.9 384.0,310.8 382.0,312.8 379.9,312.8 377.8,313.3 375.7,312.0 373.7,312.6 371.6,312.8 369.5,313.4 367.4,314.0 365.4,314.5 363.3,314.6 361.2,315.2 359.1,316.1 357.0,317.3 355.0,318.2 352.9,319.5 350.8,320.7 348.7,323.1 346.7,324.6 344.6,326.0 342.5,327.6 340.4,329.0 338.3,330.6 336.3,331.9 334.2,332.6 332.1,333.3 330.0,334.0 328.0,334.3 325.9,333.6 323.8,333.9 321.7,334.8 319.6,338.1 317.6,338.4 315.5,341.2 313.4,341.5 311.3,341.6 309.3,341.9 307.2,346.4 305.1,349.5 303.0,352.9 301.0,355.9 298.9,358.4 296.8,360.7 294.7,365.3 292.6,369.6 290.6,373.3 288.5,376.2 286.4,379.4 284.3,380.7 282.3,381.7 280.2,382.9 278.1,383.3 276.0,384.0 273.9,384.2 271.9,384.5 269.8,384.7 267.7,384.9 265.6,384.8 263.6,385.4 261.5,386.8 259.4,387.6 257.3,388.3 255.3,389.8 253.2,391.0 251.1,391.8 249.0,393.0 246.9,395.7 244.9,396.9 242.8,399.5 240.7,400.8 238.6,404.3 236.6,405.1 234.5,406.4 232.4,408.4 230.3,409.9 228.2,412.0 226.2,413.6 224.1,417.7 222.0,419.5 219.9,421.5 217.9,423.8 215.8,425.2 213.7,429.5 211.6,431.9 209.6,436.2 207.5,438.7 205.4,441.5 203.3,443.3 201.2,446.8 199.2,448.1 197.1,450.8 195.0,454.9 192.9,456.6 190.9,457.7 188.8,459.4 186.7,459.5 184.6,462.2 182.6,464.4 180.5,470.3 178.4,476.8 176.3,485.7 174.2,496.2 172.2,506.7 170.1,515.5 168.0,518.4 165.9,521.3 163.9,522.7 161.8,524.8 159.7,526.1 157.6,528.2 155.5,529.6 153.5,534.5 151.4,539.3 149.3,547.3 147.2,569.6 145.2,585.8 143.1,602.8 141.0,609.2 138.9,609.2 136.8,609.2 134.8,609.2" fill="#808080" fill-opacity="0.2"/>
<line x1="134.8" y1="609.2" x2="550.2" y2="204.6" stroke="#979797" stroke-width="3.2" stroke-dasharray="10.6 3.9"/>
<polyline points="134.8,609.2 140.0,596.6 143.9,569.9 146.8,543.2 149.3,516.5 152.2,505.6 157.2,499.1 163.9,492.3 169.7,484.2 173.4,468.4 177.6,449.4 181.7,433.2 186.7,426.7 195.4,419.4 204.6,413.4 213.3,402.9 222.4,392.3 231.6,385.1 243.6,377.4 255.7,370.5 264.8,366.8 276.9,365.2 286.0,360.8 291.8,351.9 298.0,338.1 305.5,327.6 309.3,321.9 320.1,320.3 333.4,318.3 342.1,312.6 352.1,305.4 362.0,301.3 374.5,298.1 381.6,296.1 391.5,286.7 401.5,273.4 409.0,267.3 418.9,260.9 427.7,251.6 433.1,249.1 441.4,247.5 455.1,245.1 463.4,242.2 471.7,236.2 482.5,232.5 496.2,227.7 507.4,223.6 515.3,217.6 520.7,214.7 537.3,214.7 542.7,213.9 550.2,204.6" fill="none" stroke="#4b5ca6" stroke-width="4.7" stroke-linejoin="round" stroke-linecap="square"/>
</g>
<rect x="114.0" y="184.4" width="457.0" height="445.0" fill="none" stroke="#231f20" stroke-width="2.5"/>
<line x1="104.5" y1="609.2" x2="114.0" y2="609.2" stroke="#231f20" stroke-width="2"/>
<line x1="104.5" y1="528.3" x2="114.0" y2="528.3" stroke="#231f20" stroke-width="2"/>
<line x1="104.5" y1="447.4" x2="114.0" y2="447.4" stroke="#231f20" stroke-width="2"/>
<line x1="104.5" y1="366.4" x2="114.0" y2="366.4" stroke="#231f20" stroke-width="2"/>
<line x1="104.5" y1="285.5" x2="114.0" y2="285.5" stroke="#231f20" stroke-width="2"/>
<line x1="104.5" y1="204.6" x2="114.0" y2="204.6" stroke="#231f20" stroke-width="2"/>
<line x1="134.8" y1="629.4" x2="134.8" y2="638.9" stroke="#231f20" stroke-width="2"/>
<line x1="238.6" y1="629.4" x2="238.6" y2="638.9" stroke="#231f20" stroke-width="2"/>
<line x1="342.5" y1="629.4" x2="342.5" y2="638.9" stroke="#231f20" stroke-width="2"/>
<line x1="446.4" y1="629.4" x2="446.4" y2="638.9" stroke="#231f20" stroke-width="2"/>
<line x1="550.2" y1="629.4" x2="550.2" y2="638.9" stroke="#231f20" stroke-width="2"/>
<g clip-path="url(#clipB)">
<polyline points="740.2,608.8 761.0,608.8 761.0,577.7 761.0,546.6 767.9,546.6 767.9,515.5 767.9,484.5 767.9,453.4 788.7,453.4 788.7,422.3 788.7,391.2 809.4,391.2 809.4,360.1 816.3,360.1 816.3,329.0 850.9,329.0 850.9,298.0 857.8,298.0 857.8,266.9 975.4,266.9 975.4,235.8 982.3,235.8 982.3,204.7 1155.2,204.7" fill="none" stroke="#4C72B0" stroke-opacity="0.45" stroke-width="1.25"/>
<polyline points="740.2,608.8 754.1,608.8 754.1,579.9 754.1,551.1 774.8,551.1 774.8,522.2 802.5,522.2 802.5,493.3 802.5,464.5 802.5,435.6 802.5,406.8 802.5,377.9 802.5,349.0 830.2,349.0 830.2,320.2 837.1,320.2 837.1,291.3 850.9,291.3 850.9,262.4 961.6,262.4 961.6,233.6 982.3,233.6 982.3,204.7 1155.2,204.7" fill="none" stroke="#DD8452" stroke-opacity="0.45" stroke-width="1.25"/>
<polyline points="740.2,608.8 754.1,608.8 754.1,581.9 754.1,554.9 767.9,554.9 767.9,528.0 802.5,528.0 802.5,501.0 802.5,474.1 823.2,474.1 823.2,447.2 823.2,420.2 823.2,393.3 830.2,393.3 830.2,366.3 830.2,339.4 850.9,339.4 850.9,312.5 885.5,312.5 885.5,285.5 885.5,258.6 1003.1,258.6 1003.1,231.6 1044.6,231.6 1044.6,204.7 1155.2,204.7" fill="none" stroke="#55A868" stroke-opacity="0.45" stroke-width="1.25"/>
<polyline points="740.2,608.8 761.0,608.8 761.0,583.5 761.0,558.3 781.8,558.3 781.8,533.0 781.8,507.8 781.8,482.5 781.8,457.3 802.5,457.3 802.5,432.0 802.5,406.8 816.3,406.8 816.3,381.5 816.3,356.2 816.3,331.0 830.2,331.0 830.2,305.7 830.2,280.5 830.2,255.2 947.8,255.2 947.8,230.0 1016.9,230.0 1016.9,204.7 1155.2,204.7" fill="none" stroke="#C44E52" stroke-opacity="0.45" stroke-width="1.25"/>
<polyline points="740.2,608.8 747.2,608.8 747.2,581.9 747.2,554.9 754.1,554.9 754.1,528.0 754.1,501.0 767.9,501.0 767.9,474.1 781.8,474.1 781.8,447.2 781.8,420.2 795.6,420.2 795.6,393.3 795.6,366.3 816.3,366.3 816.3,339.4 816.3,312.5 837.1,312.5 837.1,285.5 850.9,285.5 850.9,258.6 940.8,258.6 940.8,231.6 954.7,231.6 954.7,204.7 1155.2,204.7" fill="none" stroke="#8172B3" stroke-opacity="0.45" stroke-width="1.25"/>
<polyline points="740.2,608.8 761.0,608.8 761.0,579.9 767.9,579.9 767.9,551.1 809.4,551.1 809.4,522.2 809.4,493.3 809.4,464.5 816.3,464.5 816.3,435.6 816.3,406.8 823.2,406.8 823.2,377.9 823.2,349.0 830.2,349.0 830.2,320.2 830.2,291.3 857.8,291.3 857.8,262.4 947.8,262.4 947.8,233.6 961.6,233.6 961.6,204.7 1155.2,204.7" fill="none" stroke="#937860" stroke-opacity="0.45" stroke-width="1.25"/>
<polyline points="740.2,608.8 754.1,608.8 754.1,581.9 761.0,581.9 761.0,554.9 761.0,528.0 761.0,501.0 761.0,474.1 761.0,447.2 761.0,420.2 774.8,420.2 774.8,393.3 809.4,393.3 809.4,366.3 837.1,366.3 837.1,339.4 850.9,339.4 850.9,312.5 850.9,285.5 850.9,258.6 933.9,258.6 933.9,231.6 1003.1,231.6 1003.1,204.7 1155.2,204.7" fill="none" stroke="#DA8BC3" stroke-opacity="0.45" stroke-width="1.25"/>
<polyline points="740.2,608.8 767.9,608.8 767.9,572.1 788.7,572.1 788.7,535.3 788.7,498.6 795.6,498.6 795.6,461.9 795.6,425.1 830.2,425.1 830.2,388.4 830.2,351.6 857.8,351.6 857.8,314.9 857.8,278.2 975.4,278.2 975.4,241.4 989.2,241.4 989.2,204.7 1155.2,204.7" fill="none" stroke="#8C8C8C" stroke-opacity="0.45" stroke-width="1.25"/>
<polyline points="740.2,608.8 767.9,608.8 767.9,581.9 767.9,554.9 767.9,528.0 767.9,501.0 767.9,474.1 767.9,447.2 809.4,447.2 809.4,420.2 809.4,393.3 830.2,393.3 830.2,366.3 850.9,366.3 850.9,339.4 850.9,312.5 850.9,285.5 850.9,258.6 975.4,258.6 975.4,231.6 1003.1,231.6 1003.1,204.7 1155.2,204.7" fill="none" stroke="#CCB974" stroke-opacity="0.45" stroke-width="1.25"/>
<polyline points="740.2,608.8 747.2,608.8 747.2,583.5 781.8,583.5 781.8,558.3 788.7,558.3 788.7,533.0 788.7,507.8 788.7,482.5 788.7,457.3 788.7,432.0 809.4,432.0 809.4,406.8 809.4,381.5 816.3,381.5 816.3,356.2 844.0,356.2 844.0,331.0 844.0,305.7 864.8,305.7 864.8,280.5 975.4,280.5 975.4,255.2 975.4,230.0 982.3,230.0 982.3,204.7 1155.2,204.7" fill="none" stroke="#64B5CD" stroke-opacity="0.45" stroke-width="1.25"/>
<polyline points="740.2,608.8 747.2,608.8 747.2,577.7 767.9,577.7 767.9,546.6 767.9,515.5 781.8,515.5 781.8,484.5 781.8,453.4 802.5,453.4 802.5,422.3 802.5,391.2 802.5,360.1 809.4,360.1 809.4,329.0 844.0,329.0 844.0,298.0 892.4,298.0 892.4,266.9 975.4,266.9 975.4,235.8 996.2,235.8 996.2,204.7 1155.2,204.7" fill="none" stroke="#4C72B0" stroke-opacity="0.45" stroke-width="1.25"/>
<polyline points="740.2,608.8 767.9,608.8 767.9,585.0 788.7,585.0 788.7,561.3 788.7,537.5 816.3,537.5 816.3,513.7 816.3,489.9 816.3,466.2 816.3,442.4 816.3,418.6 816.3,394.9 816.3,371.1 816.3,347.3 864.8,347.3 864.8,323.6 864.8,299.8 864.8,276.0 940.8,276.0 940.8,252.2 1030.8,252.2 1030.8,228.5 1030.8,204.7 1155.2,204.7" fill="none" stroke="#DD8452" stroke-opacity="0.45" stroke-width="1.25"/>
<polyline points="740.2,608.8 761.0,608.8 761.0,583.5 761.0,558.3 788.7,558.3 788.7,533.0 788.7,507.8 788.7,482.5 795.6,482.5 795.6,457.3 795.6,432.0 795.6,406.8 795.6,381.5 837.1,381.5 837.1,356.2 871.7,356.2 871.7,331.0 871.7,305.7 878.6,305.7 878.6,280.5 878.6,255.2 968.5,255.2 968.5,230.0 982.3,230.0 982.3,204.7 1155.2,204.7" fill="none" stroke="#55A868" stroke-opacity="0.45" stroke-width="1.25"/>
<polyline points="740.2,608.8 767.9,608.8 767.9,575.1 767.9,541.4 788.7,541.4 788.7,507.8 788.7,474.1 788.7,440.4 788.7,406.8 795.6,406.8 795.6,373.1 802.5,373.1 802.5,339.4 809.4,339.4 809.4,305.7 830.2,305.7 830.2,272.1 947.8,272.1 947.8,238.4 996.2,238.4 996.2,204.7 1155.2,204.7" fill="none" stroke="#C44E52" stroke-opacity="0.45" stroke-width="1.25"/>
<polyline points="740.2,608.8 754.1,608.8 754.1,575.1 781.8,575.1 781.8,541.4 781.8,507.8 781.8,474.1 795.6,474.1 795.6,440.4 809.4,440.4 809.4,406.8 809.4,373.1 809.4,339.4 816.3,339.4 816.3,305.7 816.3,272.1 933.9,272.1 933.9,238.4 975.4,238.4 975.4,204.7 1155.2,204.7" fill="none" stroke="#8172B3" stroke-opacity="0.45" stroke-width="1.25"/>
<polyline points="740.2,608.8 747.2,608.8 747.2,575.1 754.1,575.1 754.1,541.4 754.1,507.8 754.1,474.1 761.0,474.1 761.0,440.4 788.7,440.4 788.7,406.8 802.5,406.8 802.5,373.1 816.3,373.1 816.3,339.4 830.2,339.4 830.2,305.7 830.2,272.1 982.3,272.1 982.3,238.4 1003.1,238.4 1003.1,204.7 1155.2,204.7" fill="none" stroke="#937860" stroke-opacity="0.45" stroke-width="1.25"/>
<polyline points="740.2,608.8 754.1,608.8 754.1,581.9 774.8,581.9 774.8,554.9 788.7,554.9 788.7,528.0 788.7,501.0 788.7,474.1 788.7,447.2 788.7,420.2 795.6,420.2 795.6,393.3 850.9,393.3 850.9,366.3 850.9,339.4 850.9,312.5 864.8,312.5 864.8,285.5 864.8,258.6 968.5,258.6 968.5,231.6 968.5,204.7 1155.2,204.7" fill="none" stroke="#DA8BC3" stroke-opacity="0.45" stroke-width="1.25"/>
<polyline points="740.2,608.8 747.2,608.8 747.2,585.0 761.0,585.0 761.0,561.3 781.8,561.3 781.8,537.5 781.8,513.7 781.8,489.9 781.8,466.2 781.8,442.4 795.6,442.4 795.6,418.6 795.6,394.9 837.1,394.9 837.1,371.1 837.1,347.3 837.1,323.6 837.1,299.8 864.8,299.8 864.8,276.0 947.8,276.0 947.8,252.2 989.2,252.2 989.2,228.5 1003.1,228.5 1003.1,204.7 1155.2,204.7" fill="none" stroke="#8C8C8C" stroke-opacity="0.45" stroke-width="1.25"/>
<polyline points="740.2,608.8 747.2,608.8 747.2,583.5 774.8,583.5 774.8,558.3 774.8,533.0 774.8,507.8 774.8,482.5 781.8,482.5 781.8,457.3 781.8,432.0 795.6,432.0 795.6,406.8 795.6,381.5 823.2,381.5 823.2,356.2 823.2,331.0 837.1,331.0 837.1,305.7 857.8,305.7 857.8,280.5 857.8,255.2 975.4,255.2 975.4,230.0 975.4,204.7 1155.2,204.7" fill="none" stroke="#CCB974" stroke-opacity="0.45" stroke-width="1.25"/>
<polyline points="740.2,608.8 754.1,608.8 754.1,585.0 761.0,585.0 761.0,561.3 788.7,561.3 788.7,537.5 788.7,513.7 788.7,489.9 788.7,466.2 788.7,442.4 788.7,418.6 795.6,418.6 795.6,394.9 795.6,371.1 816.3,371.1 816.3,347.3 850.9,347.3 850.9,323.6 878.6,323.6 878.6,299.8 878.6,276.0 885.5,276.0 885.5,252.2 961.6,252.2 961.6,228.5 1003.1,228.5 1003.1,204.7 1155.2,204.7" fill="none" stroke="#64B5CD" stroke-opacity="0.45" stroke-width="1.25"/>
<polyline points="740.2,608.8 747.2,608.8 747.2,586.3 747.2,563.9 747.2,541.4 747.2,519.0 788.7,519.0 788.7,496.5 788.7,474.1 788.7,451.6 816.3,451.6 816.3,429.2 816.3,406.8 816.3,384.3 816.3,361.9 816.3,339.4 816.3,317.0 816.3,294.5 844.0,294.5 844.0,272.1 954.7,272.1 954.7,249.6 954.7,227.2 1003.1,227.2 1003.1,204.7 1155.2,204.7" fill="none" stroke="#4C72B0" stroke-opacity="0.45" stroke-width="1.25"/>
<polyline points="740.2,608.8 754.1,608.8 754.1,579.9 781.8,579.9 781.8,551.1 781.8,522.2 781.8,493.3 781.8,464.5 781.8,435.6 781.8,406.8 781.8,377.9 809.4,377.9 809.4,349.0 837.1,349.0 837.1,320.2 850.9,320.2 850.9,291.3 850.9,262.4 1010.0,262.4 1010.0,233.6 1010.0,204.7 1155.2,204.7" fill="none" stroke="#DD8452" stroke-opacity="0.45" stroke-width="1.25"/>
<polyline points="740.2,608.8 774.8,608.8 774.8,572.1 788.7,572.1 788.7,535.3 788.7,498.6 788.7,461.9 788.7,425.1 830.2,425.1 830.2,388.4 830.2,351.6 830.2,314.9 830.2,278.2 857.8,278.2 857.8,241.4 982.3,241.4 982.3,204.7 1155.2,204.7" fill="none" stroke="#55A868" stroke-opacity="0.45" stroke-width="1.25"/>
<polyline points="740.2,608.8 747.2,608.8 747.2,585.0 747.2,561.3 747.2,537.5 747.2,513.7 747.2,489.9 761.0,489.9 761.0,466.2 795.6,466.2 795.6,442.4 795.6,418.6 795.6,394.9 823.2,394.9 823.2,371.1 830.2,371.1 830.2,347.3 830.2,323.6 837.1,323.6 837.1,299.8 837.1,276.0 864.8,276.0 864.8,252.2 968.5,252.2 968.5,228.5 975.4,228.5 975.4,204.7 1155.2,204.7" fill="none" stroke="#C44E52" stroke-opacity="0.45" stroke-width="1.25"/>
<polyline points="740.2,608.8 761.0,608.8 761.0,579.9 761.0,551.1 774.8,551.1 774.8,522.2 788.7,522.2 788.7,493.3 788.7,464.5 788.7,435.6 788.7,406.8 795.6,406.8 795.6,377.9 823.2,377.9 823.2,349.0 844.0,349.0 844.0,320.2 857.8,320.2 857.8,291.3 878.6,291.3 878.6,262.4 968.5,262.4 968.5,233.6 975.4,233.6 975.4,204.7 1155.2,204.7" fill="none" stroke="#8172B3" stroke-opacity="0.45" stroke-width="1.25"/>
<polyline points="740.2,608.8 761.0,608.8 761.0,585.0 761.0,561.3 761.0,537.5 767.9,537.5 767.9,513.7 774.8,513.7 774.8,489.9 774.8,466.2 774.8,442.4 774.8,418.6 774.8,394.9 781.8,394.9 781.8,371.1 809.4,371.1 809.4,347.3 857.8,347.3 857.8,323.6 857.8,299.8 864.8,299.8 864.8,276.0 961.6,276.0 961.6,252.2 961.6,228.5 996.2,228.5 996.2,204.7 1155.2,204.7" fill="none" stroke="#937860" stroke-opacity="0.45" stroke-width="1.25"/>
<polyline points="740.2,608.8 761.0,608.8 761.0,575.1 761.0,541.4 809.4,541.4 809.4,507.8 809.4,474.1 809.4,440.4 809.4,406.8 809.4,373.1 850.9,373.1 850.9,339.4 857.8,339.4 857.8,305.7 857.8,272.1 982.3,272.1 982.3,238.4 1003.1,238.4 1003.1,204.7 1155.2,204.7" fill="none" stroke="#DA8BC3" stroke-opacity="0.45" stroke-width="1.25"/>
<polyline points="740.2,608.8 747.2,608.8 747.2,575.1 802.5,575.1 802.5,541.4 802.5,507.8 816.3,507.8 816.3,474.1 823.2,474.1 823.2,440.4 823.2,406.8 823.2,373.1 844.0,373.1 844.0,339.4 857.8,339.4 857.8,305.7 857.8,272.1 968.5,272.1 968.5,238.4 1010.0,238.4 1010.0,204.7 1155.2,204.7" fill="none" stroke="#8C8C8C" stroke-opacity="0.45" stroke-width="1.25"/>
<polyline points="740.2,608.8 754.1,608.8 754.1,586.3 761.0,586.3 761.0,563.9 767.9,563.9 767.9,541.4 795.6,541.4 795.6,519.0 795.6,496.5 795.6,474.1 795.6,451.6 795.6,429.2 795.6,406.8 795.6,384.3 795.6,361.9 809.4,361.9 809.4,339.4 816.3,339.4 816.3,317.0 816.3,294.5 844.0,294.5 844.0,272.1 954.7,272.1 954.7,249.6 996.2,249.6 996.2,227.2 996.2,204.7 1155.2,204.7" fill="none" stroke="#CCB974" stroke-opacity="0.45" stroke-width="1.25"/>
<polyline points="740.2,608.8 754.1,608.8 754.1,585.0 767.9,585.0 767.9,561.3 781.8,561.3 781.8,537.5 781.8,513.7 781.8,489.9 781.8,466.2 781.8,442.4 781.8,418.6 795.6,418.6 795.6,394.9 816.3,394.9 816.3,371.1 837.1,371.1 837.1,347.3 844.0,347.3 844.0,323.6 857.8,323.6 857.8,299.8 871.7,299.8 871.7,276.0 954.7,276.0 954.7,252.2 961.6,252.2 961.6,228.5 1016.9,228.5 1016.9,204.7 1155.2,204.7" fill="none" stroke="#64B5CD" stroke-opacity="0.45" stroke-width="1.25"/>
<polyline points="740.2,608.8 754.1,608.8 754.1,575.1 795.6,575.1 795.6,541.4 795.6,507.8 795.6,474.1 816.3,474.1 816.3,440.4 816.3,406.8 816.3,373.1 830.2,373.1 830.2,339.4 830.2,305.7 844.0,305.7 844.0,272.1 996.2,272.1 996.2,238.4 996.2,204.7 1155.2,204.7" fill="none" stroke="#4C72B0" stroke-opacity="0.45" stroke-width="1.25"/>
<polyline points="740.2,608.8 761.0,608.8 761.0,585.0 761.0,561.3 761.0,537.5 774.8,537.5 774.8,513.7 774.8,489.9 774.8,466.2 781.8,466.2 781.8,442.4 795.6,442.4 795.6,418.6 816.3,418.6 816.3,394.9 837.1,394.9 837.1,371.1 837.1,347.3 885.5,347.3 885.5,323.6 885.5,299.8 906.2,299.8 906.2,276.0 1016.9,276.0 1016.9,252.2 1016.9,228.5 1016.9,204.7 1155.2,204.7" fill="none" stroke="#DD8452" stroke-opacity="0.45" stroke-width="1.25"/>
<polyline points="740.2,608.8 754.1,608.8 754.1,583.5 754.1,558.3 767.9,558.3 767.9,533.0 767.9,507.8 781.8,507.8 781.8,482.5 781.8,457.3 781.8,432.0 809.4,432.0 809.4,406.8 809.4,381.5 837.1,381.5 837.1,356.2 850.9,356.2 850.9,331.0 850.9,305.7 850.9,280.5 857.8,280.5 857.8,255.2 975.4,255.2 975.4,230.0 982.3,230.0 982.3,204.7 1155.2,204.7" fill="none" stroke="#55A868" stroke-opacity="0.45" stroke-width="1.25"/>
<polyline points="740.2,608.8 761.0,608.8 761.0,575.1 774.8,575.1 774.8,541.4 774.8,507.8 781.8,507.8 781.8,474.1 795.6,474.1 795.6,440.4 795.6,406.8 795.6,373.1 809.4,373.1 809.4,339.4 864.8,339.4 864.8,305.7 864.8,272.1 933.9,272.1 933.9,238.4 975.4,238.4 975.4,204.7 1155.2,204.7" fill="none" stroke="#C44E52" stroke-opacity="0.45" stroke-width="1.25"/>
<polyline points="740.2,608.8 754.1,608.8 754.1,586.3 767.9,586.3 767.9,563.9 767.9,541.4 767.9,519.0 767.9,496.5 774.8,496.5 774.8,474.1 774.8,451.6 774.8,429.2 802.5,429.2 802.5,406.8 802.5,384.3 802.5,361.9 830.2,361.9 830.2,339.4 830.2,317.0 850.9,317.0 850.9,294.5 850.9,272.1 850.9,249.6 996.2,249.6 996.2,227.2 996.2,204.7 1155.2,204.7" fill="none" stroke="#8172B3" stroke-opacity="0.45" stroke-width="1.25"/>
<polyline points="740.2,608.8 761.0,608.8 761.0,575.1 761.0,541.4 774.8,541.4 774.8,507.8 781.8,507.8 781.8,474.1 788.7,474.1 788.7,440.4 802.5,440.4 802.5,406.8 802.5,373.1 857.8,373.1 857.8,339.4 871.7,339.4 871.7,305.7 871.7,272.1 954.7,272.1 954.7,238.4 975.4,238.4 975.4,204.7 1155.2,204.7" fill="none" stroke="#937860" stroke-opacity="0.45" stroke-width="1.25"/>
<polyline points="740.2,608.8 767.9,608.8 767.9,581.9 781.8,581.9 781.8,554.9 781.8,528.0 788.7,528.0 788.7,501.0 788.7,474.1 788.7,447.2 788.7,420.2 788.7,393.3 788.7,366.3 823.2,366.3 823.2,339.4 837.1,339.4 837.1,312.5 837.1,285.5 871.7,285.5 871.7,258.6 1010.0,258.6 1010.0,231.6 1010.0,204.7 1155.2,204.7" fill="none" stroke="#DA8BC3" stroke-opacity="0.45" stroke-width="1.25"/>
<polyline points="740.2,608.8 767.9,608.8 767.9,575.1 774.8,575.1 774.8,541.4 774.8,507.8 781.8,507.8 781.8,474.1 781.8,440.4 781.8,406.8 823.2,406.8 823.2,373.1 823.2,339.4 823.2,305.7 850.9,305.7 850.9,272.1 947.8,272.1 947.8,238.4 954.7,238.4 954.7,204.7 1155.2,204.7" fill="none" stroke="#8C8C8C" stroke-opacity="0.45" stroke-width="1.25"/>
<polyline points="740.2,608.8 761.0,608.8 761.0,581.9 761.0,554.9 761.0,528.0 761.0,501.0 774.8,501.0 774.8,474.1 795.6,474.1 795.6,447.2 795.6,420.2 795.6,393.3 837.1,393.3 837.1,366.3 837.1,339.4 837.1,312.5 844.0,312.5 844.0,285.5 871.7,285.5 871.7,258.6 968.5,258.6 968.5,231.6 996.2,231.6 996.2,204.7 1155.2,204.7" fill="none" stroke="#CCB974" stroke-opacity="0.45" stroke-width="1.25"/>
<polyline points="740.2,608.8 767.9,608.8 767.9,579.9 809.4,579.9 809.4,551.1 809.4,522.2 809.4,493.3 809.4,464.5 809.4,435.6 809.4,406.8 809.4,377.9 809.4,349.0 823.2,349.0 823.2,320.2 871.7,320.2 871.7,291.3 871.7,262.4 996.2,262.4 996.2,233.6 1016.9,233.6 1016.9,204.7 1155.2,204.7" fill="none" stroke="#64B5CD" stroke-opacity="0.45" stroke-width="1.25"/>
<polyline points="740.2,608.8 754.1,608.8 754.1,585.0 774.8,585.0 774.8,561.3 774.8,537.5 774.8,513.7 774.8,489.9 809.4,489.9 809.4,466.2 809.4,442.4 809.4,418.6 809.4,394.9 809.4,371.1 823.2,371.1 823.2,347.3 823.2,323.6 823.2,299.8 830.2,299.8 830.2,276.0 844.0,276.0 844.0,252.2 968.5,252.2 968.5,228.5 1003.1,228.5 1003.1,204.7 1155.2,204.7" fill="none" stroke="#4C72B0" stroke-opacity="0.45" stroke-width="1.25"/>
<polyline points="740.2,608.8 767.9,608.8 767.9,579.9 767.9,551.1 781.8,551.1 781.8,522.2 781.8,493.3 781.8,464.5 795.6,464.5 795.6,435.6 809.4,435.6 809.4,406.8 816.3,406.8 816.3,377.9 823.2,377.9 823.2,349.0 850.9,349.0 850.9,320.2 857.8,320.2 857.8,291.3 871.7,291.3 871.7,262.4 989.2,262.4 989.2,233.6 1023.8,233.6 1023.8,204.7 1155.2,204.7" fill="none" stroke="#DD8452" stroke-opacity="0.45" stroke-width="1.25"/>
<polyline points="740.2,608.8 747.2,608.8 747.2,575.1 781.8,575.1 781.8,541.4 781.8,507.8 802.5,507.8 802.5,474.1 837.1,474.1 837.1,440.4 837.1,406.8 837.1,373.1 850.9,373.1 850.9,339.4 850.9,305.7 857.8,305.7 857.8,272.1 989.2,272.1 989.2,238.4 1030.8,238.4 1030.8,204.7 1155.2,204.7" fill="none" stroke="#55A868" stroke-opacity="0.45" stroke-width="1.25"/>
<polyline points="740.2,608.8 761.0,608.8 761.0,579.9 767.9,579.9 767.9,551.1 788.7,551.1 788.7,522.2 788.7,493.3 788.7,464.5 788.7,435.6 788.7,406.8 830.2,406.8 830.2,377.9 850.9,377.9 850.9,349.0 864.8,349.0 864.8,320.2 864.8,291.3 864.8,262.4 989.2,262.4 989.2,233.6 1003.1,233.6 1003.1,204.7 1155.2,204.7" fill="none" stroke="#C44E52" stroke-opacity="0.45" stroke-width="1.25"/>
<polyline points="740.2,608.8 761.0,608.8 761.0,577.7 781.8,577.7 781.8,546.6 788.7,546.6 788.7,515.5 788.7,484.5 788.7,453.4 795.6,453.4 795.6,422.3 802.5,422.3 802.5,391.2 802.5,360.1 823.2,360.1 823.2,329.0 850.9,329.0 850.9,298.0 878.6,298.0 878.6,266.9 968.5,266.9 968.5,235.8 975.4,235.8 975.4,204.7 1155.2,204.7" fill="none" stroke="#8172B3" stroke-opacity="0.45" stroke-width="1.25"/>
<polyline points="740.2,608.8 767.9,608.8 767.9,579.9 767.9,551.1 781.8,551.1 781.8,522.2 781.8,493.3 788.7,493.3 788.7,464.5 788.7,435.6 788.7,406.8 788.7,377.9 788.7,349.0 816.3,349.0 816.3,320.2 816.3,291.3 857.8,291.3 857.8,262.4 982.3,262.4 982.3,233.6 989.2,233.6 989.2,204.7 1155.2,204.7" fill="none" stroke="#937860" stroke-opacity="0.45" stroke-width="1.25"/>
<polyline points="740.2,608.8 754.1,608.8 754.1,579.9 754.1,551.1 754.1,522.2 754.1,493.3 761.0,493.3 761.0,464.5 788.7,464.5 788.7,435.6 795.6,435.6 795.6,406.8 830.2,406.8 830.2,377.9 837.1,377.9 837.1,349.0 850.9,349.0 850.9,320.2 850.9,291.3 857.8,291.3 857.8,262.4 961.6,262.4 961.6,233.6 1016.9,233.6 1016.9,204.7 1155.2,204.7" fill="none" stroke="#DA8BC3" stroke-opacity="0.45" stroke-width="1.25"/>
<polyline points="740.2,608.8 761.0,608.8 761.0,585.0 761.0,561.3 795.6,561.3 795.6,537.5 795.6,513.7 795.6,489.9 795.6,466.2 795.6,442.4 795.6,418.6 795.6,394.9 795.6,371.1 809.4,371.1 809.4,347.3 823.2,347.3 823.2,323.6 844.0,323.6 844.0,299.8 844.0,276.0 954.7,276.0 954.7,252.2 982.3,252.2 982.3,228.5 1037.7,228.5 1037.7,204.7 1155.2,204.7" fill="none" stroke="#8C8C8C" stroke-opacity="0.45" stroke-width="1.25"/>
<polyline points="740.2,608.8 767.9,608.8 767.9,577.7 774.8,577.7 774.8,546.6 774.8,515.5 788.7,515.5 788.7,484.5 795.6,484.5 795.6,453.4 809.4,453.4 809.4,422.3 837.1,422.3 837.1,391.2 837.1,360.1 857.8,360.1 857.8,329.0 857.8,298.0 857.8,266.9 968.5,266.9 968.5,235.8 1030.8,235.8 1030.8,204.7 1155.2,204.7" fill="none" stroke="#CCB974" stroke-opacity="0.45" stroke-width="1.25"/>
<polyline points="740.2,608.8 747.2,608.8 747.2,579.9 747.2,551.1 774.8,551.1 774.8,522.2 774.8,493.3 774.8,464.5 774.8,435.6 802.5,435.6 802.5,406.8 802.5,377.9 830.2,377.9 830.2,349.0 830.2,320.2 830.2,291.3 850.9,291.3 850.9,262.4 968.5,262.4 968.5,233.6 1023.8,233.6 1023.8,204.7 1155.2,204.7" fill="none" stroke="#64B5CD" stroke-opacity="0.45" stroke-width="1.25"/>
<polygon points="740.2,608.8 742.3,608.6 744.4,608.4 746.5,608.2 748.5,583.9 750.6,582.6 752.7,580.4 754.8,567.9 756.9,564.3 758.9,555.1 761.0,534.5 763.1,519.3 765.1,505.7 767.2,492.5 769.3,478.8 771.4,464.1 773.5,444.2 775.5,428.4 777.6,421.9 779.7,417.0 781.8,404.9 783.8,393.7 785.9,382.1 788.0,370.4 790.0,363.3 792.1,356.7 794.2,351.1 796.3,345.8 798.4,341.6 800.4,338.3 802.5,338.7 804.6,336.6 806.6,334.6 808.7,332.1 810.8,339.4 812.9,336.7 814.9,334.0 817.0,333.7 819.1,330.9 821.2,328.1 823.2,328.1 825.3,324.1 827.4,320.0 829.5,314.7 831.5,305.2 833.6,298.6 835.7,290.7 837.8,291.7 839.9,283.6 841.9,275.9 844.0,267.6 846.1,261.4 848.1,256.9 850.2,252.9 852.3,252.4 854.4,248.8 856.5,245.2 858.5,247.0 860.6,245.3 862.7,243.5 864.8,246.5 866.8,244.7 868.9,243.7 871.0,243.0 873.0,248.0 875.1,247.2 877.2,246.5 879.3,248.7 881.4,248.4 883.4,248.4 885.5,253.7 887.6,253.7 889.6,253.7 891.7,253.7 893.8,254.7 895.9,254.7 898.0,254.7 900.0,254.7 902.1,254.7 904.2,254.7 906.2,255.8 908.3,255.8 910.4,255.8 912.5,255.8 914.5,255.8 916.6,255.8 918.7,255.8 920.8,255.8 922.9,255.8 924.9,255.8 927.0,255.8 929.1,255.8 931.1,255.8 933.2,255.8 935.3,253.6 937.4,253.6 939.5,253.6 941.5,252.8 943.6,252.8 945.7,252.8 947.8,251.1 949.8,250.4 951.9,249.8 954.0,247.5 956.0,242.2 958.1,239.9 960.2,237.6 962.3,233.3 964.4,231.1 966.4,229.0 968.5,225.7 970.6,223.7 972.6,221.7 974.7,219.7 976.8,215.6 978.9,213.6 981.0,211.6 983.0,209.2 985.1,207.1 987.2,204.7 989.2,204.7 991.3,204.7 993.4,204.7 995.5,204.7 997.5,204.7 999.6,204.7 1001.7,204.7 1003.8,204.7 1005.9,204.7 1007.9,204.7 1010.0,204.7 1012.1,204.7 1014.2,204.7 1016.2,204.7 1018.3,204.7 1020.4,204.7 1022.5,204.7 1024.5,204.7 1026.6,204.7 1028.7,204.7 1030.8,204.7 1032.8,204.7 1034.9,204.7 1037.0,204.7 1039.0,204.7 1041.1,204.7 1043.2,204.7 1045.3,204.7 1047.3,204.7 1049.4,204.7 1051.5,204.7 1053.6,204.7 1055.7,204.7 1057.7,204.7 1059.8,204.7 1061.9,204.7 1064.0,204.7 1066.0,204.7 1068.1,204.7 1070.2,204.7 1072.2,204.7 1074.3,204.7 1076.4,204.7 1078.5,204.7 1080.5,204.7 1082.6,204.7 1084.7,204.7 1086.8,204.7 1088.8,204.7 1090.9,204.7 1093.0,204.7 1095.1,204.7 1097.2,204.7 1099.2,204.7 1101.3,204.7 1103.4,204.7 1105.5,204.7 1107.5,204.7 1109.6,204.7 1111.7,204.7 1113.8,204.7 1115.8,204.7 1117.9,204.7 1120.0,204.7 1122.0,204.7 1124.1,204.7 1126.2,204.7 1128.3,204.7 1130.3,204.7 1132.4,204.7 1134.5,204.7 1136.6,204.7 1138.7,204.7 1140.7,204.7 1142.8,204.7 1144.9,204.7 1147.0,204.7 1149.0,204.7 1151.1,204.7 1153.2,204.7 1155.2,204.7 1155.2,204.7 1153.2,204.7 1151.1,204.7 1149.0,204.7 1147.0,204.7 1144.9,204.7 1142.8,204.7 1140.7,204.7 1138.7,204.7 1136.6,204.7 1134.5,204.7 1132.4,204.7 1130.3,204.7 1128.3,204.7 1126.2,204.7 1124.1,204.7 1122.0,204.7 1120.0,204.7 1117.9,204.7 1115.8,204.7 1113.8,204.7 1111.7,204.7 1109.6,204.7 1107.5,204.7 1105.5,204.7 1103.4,204.7 1101.3,204.7 1099.2,204.7 1097.2,204.7 1095.1,204.7 1093.0,204.7 1090.9,204.7 1088.8,204.7 1086.8,204.7 1084.7,204.7 1082.6,204.7 1080.5,204.7 1078.5,204.7 1076.4,204.7 1074.3,204.7 1072.2,204.7 1070.2,204.7 1068.1,204.7 1066.0,204.7 1064.0,204.7 1061.9,204.7 1059.8,204.7 1057.7,204.7 1055.7,204.7 1053.6,204.7 1051.5,204.7 1049.4,204.7 1047.3,204.7 1045.3,204.7 1043.2,208.5 1041.1,208.5 1039.0,208.5 1037.0,209.7 1034.9,209.7 1032.8,209.7 1030.8,209.7 1028.7,214.8 1026.6,214.8 1024.5,214.8 1022.5,216.0 1020.4,216.0 1018.3,216.5 1016.2,221.7 1014.2,222.5 1012.1,223.4 1010.0,224.3 1007.9,227.6 1005.9,228.3 1003.8,228.9 1001.7,230.3 999.6,231.3 997.5,232.7 995.5,235.5 993.4,236.9 991.3,239.2 989.2,242.8 987.2,248.0 985.1,251.6 983.0,253.6 981.0,255.2 978.9,257.2 976.8,259.3 974.7,259.3 972.6,261.3 970.6,263.3 968.5,265.3 966.4,266.3 964.4,268.4 962.3,270.6 960.2,270.5 958.1,272.8 956.0,275.1 954.0,274.4 951.9,276.8 949.8,277.4 947.8,278.0 945.7,276.2 943.6,276.2 941.5,276.2 939.5,275.4 937.4,275.4 935.3,275.4 933.2,273.2 931.1,273.2 929.1,273.2 927.0,273.2 924.9,273.2 922.9,273.2 920.8,273.2 918.7,273.2 916.6,273.2 914.5,273.2 912.5,273.2 910.4,273.2 908.3,273.2 906.2,273.2 904.2,274.4 902.1,274.4 900.0,274.4 898.0,274.4 895.9,274.4 893.8,274.4 891.7,275.4 889.6,275.4 887.6,275.4 885.5,275.4 883.4,280.7 881.4,280.7 879.3,280.9 877.2,284.5 875.1,285.2 873.0,285.9 871.0,292.3 868.9,293.0 866.8,293.9 864.8,295.7 862.7,302.2 860.6,304.0 858.5,305.8 856.5,311.9 854.4,315.5 852.3,319.1 850.2,326.2 848.1,330.3 846.1,334.8 844.0,341.0 841.9,345.2 839.9,352.9 837.8,361.0 835.7,377.8 833.6,385.7 831.5,392.2 829.5,395.2 827.4,400.5 825.3,404.6 823.2,408.6 821.2,415.7 819.1,418.5 817.0,421.3 814.9,426.6 812.9,429.4 810.8,432.1 808.7,444.8 806.6,447.4 804.6,449.4 802.5,451.4 800.4,455.8 798.4,459.1 796.3,463.3 794.2,466.4 792.1,472.0 790.0,478.6 788.0,488.8 785.9,500.5 783.8,512.1 781.8,523.3 779.7,521.0 777.6,525.9 775.5,532.4 773.5,531.7 771.4,551.6 769.3,566.4 767.2,579.6 765.1,592.9 763.1,606.5 761.0,608.8 758.9,608.8 756.9,608.8 754.8,608.8 752.7,608.8 750.6,608.8 748.5,608.8 746.5,608.2 744.4,608.4 742.3,608.6 740.2,608.8" fill="#808080" fill-opacity="0.2"/>
<line x1="740.2" y1="608.8" x2="1155.2" y2="204.7" stroke="#979797" stroke-width="2.8" stroke-dasharray="10 4.4"/>
<polyline points="740.2,608.8 749.4,608.0 756.4,600.7 760.2,584.1 763.5,559.9 767.2,536.1 771.0,511.8 773.5,488.0 776.8,475.8 781.8,464.1 784.7,448.4 788.8,424.9 793.4,410.4 799.6,397.9 807.1,390.6 814.5,380.9 822.0,370.8 828.2,358.7 833.2,343.7 837.8,326.3 841.5,311.8 846.5,296.8 851.5,287.1 856.9,277.8 867.2,269.0 880.1,264.5 947.8,264.5 951.9,263.3 960.6,253.6 968.9,245.1 977.6,236.6 985.1,229.4 992.2,217.2 1000.5,211.6 1010.0,208.7 1019.5,204.7 1155.2,204.7" fill="none" stroke="#4b5ca6" stroke-width="4.7" stroke-linejoin="round" stroke-linecap="square"/>
</g>
<rect x="719.5" y="184.5" width="456.5" height="444.5" fill="none" stroke="#231f20" stroke-width="2.3"/>
<line x1="710.0" y1="608.8" x2="719.5" y2="608.8" stroke="#231f20" stroke-width="2"/>
<line x1="710.0" y1="528.0" x2="719.5" y2="528.0" stroke="#231f20" stroke-width="2"/>
<line x1="710.0" y1="447.2" x2="719.5" y2="447.2" stroke="#231f20" stroke-width="2"/>
<line x1="710.0" y1="366.3" x2="719.5" y2="366.3" stroke="#231f20" stroke-width="2"/>
<line x1="710.0" y1="285.5" x2="719.5" y2="285.5" stroke="#231f20" stroke-width="2"/>
<line x1="710.0" y1="204.7" x2="719.5" y2="204.7" stroke="#231f20" stroke-width="2"/>
<line x1="740.2" y1="629.0" x2="740.2" y2="638.5" stroke="#231f20" stroke-width="2"/>
<line x1="844.0" y1="629.0" x2="844.0" y2="638.5" stroke="#231f20" stroke-width="2"/>
<line x1="947.8" y1="629.0" x2="947.8" y2="638.5" stroke="#231f20" stroke-width="2"/>
<line x1="1051.5" y1="629.0" x2="1051.5" y2="638.5" stroke="#231f20" stroke-width="2"/>
<line x1="1155.2" y1="629.0" x2="1155.2" y2="638.5" stroke="#231f20" stroke-width="2"/>
<g clip-path="url(#clipC)">
<polyline points="1325.5,604.3 1325.5,589.3 1325.5,574.3 1328.3,574.3 1328.3,559.3 1328.3,544.4 1350.4,544.4 1350.4,529.4 1350.4,514.4 1350.4,499.4 1350.4,484.4 1350.4,469.5 1350.4,454.5 1356.0,454.5 1356.0,439.5 1375.4,439.5 1375.4,424.5 1380.9,424.5 1380.9,409.5 1411.4,409.5 1411.4,394.6 1416.9,394.6 1416.9,379.6 1494.5,379.6 1494.5,364.6 1541.7,364.6 1541.7,349.6 1558.3,349.6 1558.3,334.6 1574.9,334.6 1574.9,319.7 1599.9,319.7 1599.9,304.7 1641.4,304.7 1641.4,289.7 1699.6,289.7 1699.6,274.7 1699.6,259.7 1699.6,244.8 1719.0,244.8 1719.0,229.8 1719.0,214.8 1727.4,214.8 1727.4,199.8 1741.2,199.8" fill="none" stroke="#4C72B0" stroke-opacity="0.45" stroke-width="1.25"/>
<polyline points="1325.5,604.3 1325.5,594.9 1325.5,585.5 1325.5,576.1 1325.5,566.7 1328.3,566.7 1328.3,557.2 1328.3,547.8 1328.3,538.4 1328.3,529.0 1328.3,519.6 1336.6,519.6 1336.6,510.2 1336.6,500.8 1342.1,500.8 1342.1,491.4 1361.5,491.4 1361.5,482.0 1361.5,472.6 1361.5,463.2 1372.6,463.2 1372.6,453.8 1380.9,453.8 1380.9,444.4 1380.9,435.0 1383.7,435.0 1383.7,425.6 1408.6,425.6 1408.6,416.2 1408.6,406.8 1430.8,406.8 1430.8,397.3 1447.4,397.3 1447.4,387.9 1480.7,387.9 1480.7,378.5 1513.9,378.5 1513.9,369.1 1513.9,359.7 1550.0,359.7 1550.0,350.3 1550.0,340.9 1550.0,331.5 1580.5,331.5 1580.5,322.1 1597.1,322.1 1597.1,312.7 1597.1,303.3 1597.1,293.9 1619.3,293.9 1619.3,284.5 1619.3,275.1 1674.7,275.1 1674.7,265.7 1674.7,256.3 1683.0,256.3 1683.0,246.9 1683.0,237.4 1708.0,237.4 1708.0,228.0 1708.0,218.6 1716.3,218.6 1716.3,209.2 1716.3,199.8 1741.2,199.8" fill="none" stroke="#DD8452" stroke-opacity="0.45" stroke-width="1.25"/>
<polyline points="1325.5,604.3 1325.5,594.4 1328.3,594.4 1328.3,584.5 1328.3,574.7 1333.8,574.7 1333.8,564.8 1333.8,555.0 1333.8,545.1 1333.8,535.2 1333.8,525.4 1339.3,525.4 1339.3,515.5 1339.3,505.6 1339.3,495.8 1347.7,495.8 1347.7,485.9 1372.6,485.9 1372.6,476.0 1375.4,476.0 1375.4,466.2 1375.4,456.3 1375.4,446.4 1386.5,446.4 1386.5,436.6 1389.2,436.6 1389.2,426.7 1414.2,426.7 1414.2,416.8 1414.2,407.0 1430.8,407.0 1430.8,397.1 1439.1,397.1 1439.1,387.3 1511.2,387.3 1511.2,377.4 1527.8,377.4 1527.8,367.5 1572.2,367.5 1572.2,357.7 1577.7,357.7 1577.7,347.8 1591.6,347.8 1591.6,337.9 1591.6,328.1 1605.4,328.1 1605.4,318.2 1613.7,318.2 1613.7,308.3 1644.2,308.3 1644.2,298.5 1644.2,288.6 1702.4,288.6 1702.4,278.7 1713.5,278.7 1713.5,268.9 1713.5,259.0 1713.5,249.1 1716.3,249.1 1716.3,239.3 1730.1,239.3 1730.1,229.4 1741.2,229.4 1741.2,219.6 1741.2,209.7 1741.2,199.8" fill="none" stroke="#55A868" stroke-opacity="0.45" stroke-width="1.25"/>
<polyline points="1325.5,604.3 1325.5,593.0 1328.3,593.0 1328.3,581.8 1328.3,570.6 1333.8,570.6 1333.8,559.3 1333.8,548.1 1333.8,536.9 1333.8,525.6 1336.6,525.6 1336.6,514.4 1336.6,503.2 1336.6,491.9 1356.0,491.9 1356.0,480.7 1378.1,480.7 1378.1,469.5 1378.1,458.2 1378.1,447.0 1378.1,435.8 1378.1,424.5 1380.9,424.5 1380.9,413.3 1397.5,413.3 1397.5,402.1 1400.3,402.1 1400.3,390.8 1416.9,390.8 1416.9,379.6 1439.1,379.6 1439.1,368.3 1505.6,368.3 1505.6,357.1 1508.4,357.1 1508.4,345.9 1541.7,345.9 1541.7,334.6 1566.6,334.6 1566.6,323.4 1580.5,323.4 1580.5,312.2 1597.1,312.2 1597.1,300.9 1616.5,300.9 1616.5,289.7 1652.5,289.7 1652.5,278.5 1691.3,278.5 1691.3,267.2 1691.3,256.0 1696.9,256.0 1696.9,244.8 1716.3,244.8 1716.3,233.5 1719.0,233.5 1719.0,222.3 1741.2,222.3 1741.2,211.1 1741.2,199.8" fill="none" stroke="#C44E52" stroke-opacity="0.45" stroke-width="1.25"/>
<polyline points="1325.5,604.3 1328.3,604.3 1328.3,593.6 1328.3,583.0 1331.0,583.0 1331.0,572.3 1331.0,561.7 1331.0,551.1 1331.0,540.4 1331.0,529.8 1339.3,529.8 1339.3,519.1 1339.3,508.5 1342.1,508.5 1342.1,497.8 1342.1,487.2 1342.1,476.6 1342.1,465.9 1358.7,465.9 1358.7,455.3 1358.7,444.6 1369.8,444.6 1369.8,434.0 1372.6,434.0 1372.6,423.3 1403.1,423.3 1403.1,412.7 1403.1,402.1 1425.3,402.1 1425.3,391.4 1425.3,380.8 1436.3,380.8 1436.3,370.1 1500.1,370.1 1500.1,359.5 1508.4,359.5 1508.4,348.8 1538.9,348.8 1538.9,338.2 1561.1,338.2 1561.1,327.5 1561.1,316.9 1574.9,316.9 1574.9,306.3 1599.9,306.3 1599.9,295.6 1599.9,285.0 1599.9,274.3 1611.0,274.3 1611.0,263.7 1619.3,263.7 1619.3,253.0 1680.2,253.0 1680.2,242.4 1680.2,231.8 1705.2,231.8 1705.2,221.1 1710.7,221.1 1710.7,210.5 1741.2,210.5 1741.2,199.8" fill="none" stroke="#8172B3" stroke-opacity="0.45" stroke-width="1.25"/>
<polyline points="1325.5,604.3 1325.5,589.8 1328.3,589.8 1328.3,575.4 1328.3,560.9 1328.3,546.5 1328.3,532.1 1328.3,517.6 1331.0,517.6 1331.0,503.2 1333.8,503.2 1333.8,488.7 1358.7,488.7 1358.7,474.3 1364.3,474.3 1364.3,459.8 1364.3,445.4 1364.3,430.9 1375.4,430.9 1375.4,416.5 1380.9,416.5 1380.9,402.1 1416.9,402.1 1416.9,387.6 1480.7,387.6 1480.7,373.2 1489.0,373.2 1489.0,358.7 1533.3,358.7 1533.3,344.3 1558.3,344.3 1558.3,329.8 1588.8,329.8 1588.8,315.4 1597.1,315.4 1597.1,300.9 1660.8,300.9 1660.8,286.5 1688.6,286.5 1688.6,272.0 1688.6,257.6 1694.1,257.6 1694.1,243.2 1708.0,243.2 1708.0,228.7 1710.7,228.7 1710.7,214.3 1741.2,214.3 1741.2,199.8" fill="none" stroke="#937860" stroke-opacity="0.45" stroke-width="1.25"/>
<polyline points="1325.5,604.3 1325.5,593.6 1328.3,593.6 1328.3,583.0 1331.0,583.0 1331.0,572.3 1331.0,561.7 1339.3,561.7 1339.3,551.1 1339.3,540.4 1339.3,529.8 1339.3,519.1 1339.3,508.5 1339.3,497.8 1353.2,497.8 1353.2,487.2 1353.2,476.6 1356.0,476.6 1356.0,465.9 1356.0,455.3 1358.7,455.3 1358.7,444.6 1378.1,444.6 1378.1,434.0 1394.8,434.0 1394.8,423.3 1405.9,423.3 1405.9,412.7 1425.3,412.7 1425.3,402.1 1433.6,402.1 1433.6,391.4 1450.2,391.4 1450.2,380.8 1525.0,380.8 1525.0,370.1 1541.7,370.1 1541.7,359.5 1552.8,359.5 1552.8,348.8 1577.7,348.8 1577.7,338.2 1602.6,338.2 1602.6,327.5 1605.4,327.5 1605.4,316.9 1611.0,316.9 1611.0,306.3 1641.4,306.3 1641.4,295.6 1669.2,295.6 1669.2,285.0 1674.7,285.0 1674.7,274.3 1685.8,274.3 1685.8,263.7 1694.1,263.7 1694.1,253.0 1716.3,253.0 1716.3,242.4 1716.3,231.8 1716.3,221.1 1738.4,221.1 1738.4,210.5 1738.4,199.8 1741.2,199.8" fill="none" stroke="#DA8BC3" stroke-opacity="0.45" stroke-width="1.25"/>
<polyline points="1325.5,604.3 1325.5,592.7 1331.0,592.7 1331.0,581.2 1331.0,569.6 1336.6,569.6 1336.6,558.1 1336.6,546.5 1336.6,534.9 1336.6,523.4 1336.6,511.8 1353.2,511.8 1353.2,500.3 1369.8,500.3 1369.8,488.7 1369.8,477.2 1369.8,465.6 1389.2,465.6 1389.2,454.1 1389.2,442.5 1389.2,430.9 1405.9,430.9 1405.9,419.4 1430.8,419.4 1430.8,407.8 1430.8,396.3 1450.2,396.3 1450.2,384.7 1516.7,384.7 1516.7,373.2 1516.7,361.6 1516.7,350.0 1522.3,350.0 1522.3,338.5 1552.8,338.5 1552.8,326.9 1577.7,326.9 1577.7,315.4 1591.6,315.4 1591.6,303.8 1608.2,303.8 1608.2,292.3 1622.0,292.3 1622.0,280.7 1669.2,280.7 1669.2,269.2 1683.0,269.2 1683.0,257.6 1699.6,257.6 1699.6,246.0 1699.6,234.5 1705.2,234.5 1705.2,222.9 1738.4,222.9 1738.4,211.4 1738.4,199.8 1741.2,199.8" fill="none" stroke="#8C8C8C" stroke-opacity="0.45" stroke-width="1.25"/>
<polyline points="1325.5,604.3 1325.5,590.8 1325.5,577.3 1325.5,563.8 1325.5,550.4 1331.0,550.4 1331.0,536.9 1331.0,523.4 1331.0,509.9 1336.6,509.9 1336.6,496.4 1336.6,482.9 1369.8,482.9 1369.8,469.5 1369.8,456.0 1369.8,442.5 1394.8,442.5 1394.8,429.0 1394.8,415.5 1400.3,415.5 1400.3,402.1 1422.5,402.1 1422.5,388.6 1422.5,375.1 1422.5,361.6 1483.5,361.6 1483.5,348.1 1508.4,348.1 1508.4,334.6 1508.4,321.2 1544.4,321.2 1544.4,307.7 1561.1,307.7 1561.1,294.2 1608.2,294.2 1608.2,280.7 1608.2,267.2 1638.7,267.2 1638.7,253.8 1694.1,253.8 1694.1,240.3 1696.9,240.3 1696.9,226.8 1719.0,226.8 1719.0,213.3 1741.2,213.3 1741.2,199.8" fill="none" stroke="#CCB974" stroke-opacity="0.45" stroke-width="1.25"/>
<polyline points="1325.5,604.3 1328.3,604.3 1328.3,594.4 1328.3,584.5 1328.3,574.7 1328.3,564.8 1331.0,564.8 1331.0,555.0 1331.0,545.1 1331.0,535.2 1336.6,535.2 1336.6,525.4 1339.3,525.4 1339.3,515.5 1353.2,515.5 1353.2,505.6 1353.2,495.8 1372.6,495.8 1372.6,485.9 1372.6,476.0 1372.6,466.2 1372.6,456.3 1372.6,446.4 1389.2,446.4 1389.2,436.6 1389.2,426.7 1408.6,426.7 1408.6,416.8 1408.6,407.0 1425.3,407.0 1425.3,397.1 1433.6,397.1 1433.6,387.3 1480.7,387.3 1480.7,377.4 1480.7,367.5 1511.2,367.5 1511.2,357.7 1530.6,357.7 1530.6,347.8 1536.1,347.8 1536.1,337.9 1552.8,337.9 1552.8,328.1 1555.5,328.1 1555.5,318.2 1569.4,318.2 1569.4,308.3 1572.2,308.3 1572.2,298.5 1613.7,298.5 1613.7,288.6 1619.3,288.6 1619.3,278.7 1641.4,278.7 1641.4,268.9 1649.8,268.9 1649.8,259.0 1674.7,259.0 1674.7,249.1 1702.4,249.1 1702.4,239.3 1702.4,229.4 1702.4,219.6 1738.4,219.6 1738.4,209.7 1741.2,209.7 1741.2,199.8" fill="none" stroke="#64B5CD" stroke-opacity="0.45" stroke-width="1.25"/>
<polyline points="1325.5,604.3 1325.5,593.3 1328.3,593.3 1328.3,582.4 1328.3,571.5 1333.8,571.5 1333.8,560.6 1333.8,549.6 1339.3,549.6 1339.3,538.7 1339.3,527.8 1339.3,516.8 1342.1,516.8 1342.1,505.9 1342.1,495.0 1361.5,495.0 1361.5,484.0 1369.8,484.0 1369.8,473.1 1375.4,473.1 1375.4,462.2 1375.4,451.2 1383.7,451.2 1383.7,440.3 1408.6,440.3 1408.6,429.4 1428.0,429.4 1428.0,418.4 1428.0,407.5 1441.9,407.5 1441.9,396.6 1508.4,396.6 1508.4,385.7 1536.1,385.7 1536.1,374.7 1536.1,363.8 1544.4,363.8 1544.4,352.9 1574.9,352.9 1574.9,341.9 1580.5,341.9 1580.5,331.0 1599.9,331.0 1599.9,320.1 1622.0,320.1 1622.0,309.1 1644.2,309.1 1644.2,298.2 1652.5,298.2 1652.5,287.3 1696.9,287.3 1696.9,276.3 1696.9,265.4 1710.7,265.4 1710.7,254.5 1710.7,243.5 1710.7,232.6 1730.1,232.6 1730.1,221.7 1735.7,221.7 1735.7,210.8 1735.7,199.8 1741.2,199.8" fill="none" stroke="#4C72B0" stroke-opacity="0.45" stroke-width="1.25"/>
<polyline points="1325.5,604.3 1325.5,594.2 1325.5,584.1 1325.5,573.9 1325.5,563.8 1325.5,553.7 1328.3,553.7 1328.3,543.6 1328.3,533.5 1328.3,523.4 1328.3,513.3 1328.3,503.2 1333.8,503.2 1333.8,493.1 1336.6,493.1 1336.6,482.9 1336.6,472.8 1350.4,472.8 1350.4,462.7 1356.0,462.7 1356.0,452.6 1380.9,452.6 1380.9,442.5 1397.5,442.5 1397.5,432.4 1397.5,422.3 1397.5,412.2 1397.5,402.1 1400.3,402.1 1400.3,391.9 1405.9,391.9 1405.9,381.8 1405.9,371.7 1430.8,371.7 1430.8,361.6 1461.3,361.6 1461.3,351.5 1489.0,351.5 1489.0,341.4 1502.9,341.4 1502.9,331.3 1502.9,321.2 1536.1,321.2 1536.1,311.0 1547.2,311.0 1547.2,300.9 1547.2,290.8 1547.2,280.7 1583.2,280.7 1583.2,270.6 1597.1,270.6 1597.1,260.5 1611.0,260.5 1611.0,250.4 1658.1,250.4 1658.1,240.3 1677.5,240.3 1677.5,230.2 1688.6,230.2 1688.6,220.0 1713.5,220.0 1713.5,209.9 1730.1,209.9 1730.1,199.8 1741.2,199.8" fill="none" stroke="#DD8452" stroke-opacity="0.45" stroke-width="1.25"/>
<polyline points="1325.5,604.3 1325.5,589.8 1325.5,575.4 1328.3,575.4 1328.3,560.9 1328.3,546.5 1333.8,546.5 1333.8,532.1 1333.8,517.6 1333.8,503.2 1333.8,488.7 1347.7,488.7 1347.7,474.3 1353.2,474.3 1353.2,459.8 1356.0,459.8 1356.0,445.4 1372.6,445.4 1372.6,430.9 1372.6,416.5 1392.0,416.5 1392.0,402.1 1408.6,402.1 1408.6,387.6 1425.3,387.6 1425.3,373.2 1469.6,373.2 1469.6,358.7 1505.6,358.7 1505.6,344.3 1533.3,344.3 1533.3,329.8 1550.0,329.8 1550.0,315.4 1574.9,315.4 1574.9,300.9 1574.9,286.5 1594.3,286.5 1594.3,272.0 1627.6,272.0 1627.6,257.6 1677.5,257.6 1677.5,243.2 1691.3,243.2 1691.3,228.7 1699.6,228.7 1699.6,214.3 1719.0,214.3 1719.0,199.8 1741.2,199.8" fill="none" stroke="#55A868" stroke-opacity="0.45" stroke-width="1.25"/>
<polyline points="1325.5,604.3 1325.5,588.7 1331.0,588.7 1331.0,573.2 1333.8,573.2 1333.8,557.6 1339.3,557.6 1339.3,542.1 1342.1,542.1 1342.1,526.5 1342.1,510.9 1358.7,510.9 1358.7,495.4 1378.1,495.4 1378.1,479.8 1378.1,464.3 1378.1,448.7 1378.1,433.2 1392.0,433.2 1392.0,417.6 1392.0,402.1 1441.9,402.1 1441.9,386.5 1444.7,386.5 1444.7,370.9 1544.4,370.9 1544.4,355.4 1563.8,355.4 1563.8,339.8 1580.5,339.8 1580.5,324.3 1608.2,324.3 1608.2,308.7 1635.9,308.7 1635.9,293.2 1635.9,277.6 1663.6,277.6 1663.6,262.0 1685.8,262.0 1685.8,246.5 1685.8,230.9 1732.9,230.9 1732.9,215.4 1741.2,215.4 1741.2,199.8" fill="none" stroke="#C44E52" stroke-opacity="0.45" stroke-width="1.25"/>
<polyline points="1325.5,604.3 1325.5,594.6 1331.0,594.6 1331.0,585.0 1333.8,585.0 1333.8,575.4 1333.8,565.8 1333.8,556.1 1333.8,546.5 1342.1,546.5 1342.1,536.9 1342.1,527.2 1342.1,517.6 1353.2,517.6 1353.2,508.0 1353.2,498.3 1367.1,498.3 1367.1,488.7 1375.4,488.7 1375.4,479.1 1375.4,469.5 1375.4,459.8 1375.4,450.2 1380.9,450.2 1380.9,440.6 1380.9,430.9 1403.1,430.9 1403.1,421.3 1425.3,421.3 1425.3,411.7 1425.3,402.1 1425.3,392.4 1425.3,382.8 1450.2,382.8 1450.2,373.2 1522.3,373.2 1522.3,363.5 1538.9,363.5 1538.9,353.9 1538.9,344.3 1555.5,344.3 1555.5,334.6 1594.3,334.6 1594.3,325.0 1594.3,315.4 1627.6,315.4 1627.6,305.8 1630.4,305.8 1630.4,296.1 1663.6,296.1 1663.6,286.5 1696.9,286.5 1696.9,276.9 1708.0,276.9 1708.0,267.2 1719.0,267.2 1719.0,257.6 1719.0,248.0 1724.6,248.0 1724.6,238.3 1724.6,228.7 1735.7,228.7 1735.7,219.1 1741.2,219.1 1741.2,209.5 1741.2,199.8" fill="none" stroke="#8172B3" stroke-opacity="0.45" stroke-width="1.25"/>
<polyline points="1325.5,604.3 1328.3,604.3 1328.3,589.8 1328.3,575.4 1331.0,575.4 1331.0,560.9 1331.0,546.5 1331.0,532.1 1331.0,517.6 1331.0,503.2 1336.6,503.2 1336.6,488.7 1336.6,474.3 1361.5,474.3 1361.5,459.8 1375.4,459.8 1375.4,445.4 1375.4,430.9 1375.4,416.5 1405.9,416.5 1405.9,402.1 1405.9,387.6 1405.9,373.2 1419.7,373.2 1419.7,358.7 1489.0,358.7 1489.0,344.3 1511.2,344.3 1511.2,329.8 1511.2,315.4 1566.6,315.4 1566.6,300.9 1574.9,300.9 1574.9,286.5 1605.4,286.5 1605.4,272.0 1633.1,272.0 1633.1,257.6 1691.3,257.6 1691.3,243.2 1696.9,243.2 1696.9,228.7 1705.2,228.7 1705.2,214.3 1741.2,214.3 1741.2,199.8" fill="none" stroke="#937860" stroke-opacity="0.45" stroke-width="1.25"/>
<polyline points="1325.5,604.3 1328.3,604.3 1328.3,589.3 1328.3,574.3 1331.0,574.3 1331.0,559.3 1331.0,544.4 1331.0,529.4 1331.0,514.4 1331.0,499.4 1347.7,499.4 1347.7,484.4 1347.7,469.5 1353.2,469.5 1353.2,454.5 1358.7,454.5 1358.7,439.5 1392.0,439.5 1392.0,424.5 1392.0,409.5 1419.7,409.5 1419.7,394.6 1502.9,394.6 1502.9,379.6 1519.5,379.6 1519.5,364.6 1538.9,364.6 1538.9,349.6 1555.5,349.6 1555.5,334.6 1572.2,334.6 1572.2,319.7 1580.5,319.7 1580.5,304.7 1613.7,304.7 1613.7,289.7 1627.6,289.7 1627.6,274.7 1669.2,274.7 1669.2,259.7 1674.7,259.7 1674.7,244.8 1685.8,244.8 1685.8,229.8 1688.6,229.8 1688.6,214.8 1724.6,214.8 1724.6,199.8 1741.2,199.8" fill="none" stroke="#DA8BC3" stroke-opacity="0.45" stroke-width="1.25"/>
<polyline points="1325.5,604.3 1325.5,595.1 1328.3,595.1 1328.3,585.9 1328.3,576.7 1331.0,576.7 1331.0,567.5 1331.0,558.3 1336.6,558.3 1336.6,549.1 1344.9,549.1 1344.9,539.9 1344.9,530.7 1350.4,530.7 1350.4,521.5 1350.4,512.4 1350.4,503.2 1356.0,503.2 1356.0,494.0 1367.1,494.0 1367.1,484.8 1367.1,475.6 1372.6,475.6 1372.6,466.4 1372.6,457.2 1380.9,457.2 1380.9,448.0 1400.3,448.0 1400.3,438.8 1400.3,429.6 1400.3,420.4 1400.3,411.2 1430.8,411.2 1430.8,402.1 1444.7,402.1 1444.7,392.9 1450.2,392.9 1450.2,383.7 1464.1,383.7 1464.1,374.5 1505.6,374.5 1505.6,365.3 1555.5,365.3 1555.5,356.1 1555.5,346.9 1561.1,346.9 1561.1,337.7 1583.2,337.7 1583.2,328.5 1583.2,319.3 1597.1,319.3 1597.1,310.1 1608.2,310.1 1608.2,300.9 1622.0,300.9 1622.0,291.7 1647.0,291.7 1647.0,282.6 1652.5,282.6 1652.5,273.4 1652.5,264.2 1688.6,264.2 1688.6,255.0 1705.2,255.0 1705.2,245.8 1713.5,245.8 1713.5,236.6 1713.5,227.4 1713.5,218.2 1741.2,218.2 1741.2,209.0 1741.2,199.8" fill="none" stroke="#8C8C8C" stroke-opacity="0.45" stroke-width="1.25"/>
<polyline points="1325.5,604.3 1328.3,604.3 1328.3,588.7 1328.3,573.2 1328.3,557.6 1328.3,542.1 1333.8,542.1 1333.8,526.5 1333.8,510.9 1336.6,510.9 1336.6,495.4 1353.2,495.4 1353.2,479.8 1353.2,464.3 1380.9,464.3 1380.9,448.7 1380.9,433.2 1397.5,433.2 1397.5,417.6 1422.5,417.6 1422.5,402.1 1447.4,402.1 1447.4,386.5 1522.3,386.5 1522.3,370.9 1552.8,370.9 1552.8,355.4 1555.5,355.4 1555.5,339.8 1574.9,339.8 1574.9,324.3 1591.6,324.3 1591.6,308.7 1608.2,308.7 1608.2,293.2 1644.2,293.2 1644.2,277.6 1666.4,277.6 1666.4,262.0 1688.6,262.0 1688.6,246.5 1694.1,246.5 1694.1,230.9 1694.1,215.4 1735.7,215.4 1735.7,199.8 1741.2,199.8" fill="none" stroke="#CCB974" stroke-opacity="0.45" stroke-width="1.25"/>
<polyline points="1325.5,604.3 1325.5,594.9 1328.3,594.9 1328.3,585.5 1328.3,576.1 1331.0,576.1 1331.0,566.7 1331.0,557.2 1336.6,557.2 1336.6,547.8 1344.9,547.8 1344.9,538.4 1344.9,529.0 1344.9,519.6 1344.9,510.2 1344.9,500.8 1344.9,491.4 1344.9,482.0 1356.0,482.0 1356.0,472.6 1378.1,472.6 1378.1,463.2 1378.1,453.8 1378.1,444.4 1389.2,444.4 1389.2,435.0 1389.2,425.6 1389.2,416.2 1389.2,406.8 1389.2,397.3 1400.3,397.3 1400.3,387.9 1439.1,387.9 1439.1,378.5 1439.1,369.1 1439.1,359.7 1505.6,359.7 1505.6,350.3 1527.8,350.3 1527.8,340.9 1530.6,340.9 1530.6,331.5 1569.4,331.5 1569.4,322.1 1588.8,322.1 1588.8,312.7 1605.4,312.7 1605.4,303.3 1619.3,303.3 1619.3,293.9 1619.3,284.5 1622.0,284.5 1622.0,275.1 1671.9,275.1 1671.9,265.7 1702.4,265.7 1702.4,256.3 1702.4,246.9 1710.7,246.9 1710.7,237.4 1716.3,237.4 1716.3,228.0 1727.4,228.0 1727.4,218.6 1735.7,218.6 1735.7,209.2 1741.2,209.2 1741.2,199.8" fill="none" stroke="#64B5CD" stroke-opacity="0.45" stroke-width="1.25"/>
<polyline points="1325.5,604.3 1325.5,593.6 1325.5,583.0 1328.3,583.0 1328.3,572.3 1331.0,572.3 1331.0,561.7 1331.0,551.1 1331.0,540.4 1331.0,529.8 1333.8,529.8 1333.8,519.1 1333.8,508.5 1336.6,508.5 1336.6,497.8 1342.1,497.8 1342.1,487.2 1356.0,487.2 1356.0,476.6 1378.1,476.6 1378.1,465.9 1378.1,455.3 1389.2,455.3 1389.2,444.6 1389.2,434.0 1392.0,434.0 1392.0,423.3 1400.3,423.3 1400.3,412.7 1425.3,412.7 1425.3,402.1 1425.3,391.4 1433.6,391.4 1433.6,380.8 1433.6,370.1 1511.2,370.1 1511.2,359.5 1527.8,359.5 1527.8,348.8 1527.8,338.2 1552.8,338.2 1552.8,327.5 1552.8,316.9 1583.2,316.9 1583.2,306.3 1583.2,295.6 1583.2,285.0 1641.4,285.0 1641.4,274.3 1660.8,274.3 1660.8,263.7 1674.7,263.7 1674.7,253.0 1694.1,253.0 1694.1,242.4 1694.1,231.8 1719.0,231.8 1719.0,221.1 1730.1,221.1 1730.1,210.5 1741.2,210.5 1741.2,199.8" fill="none" stroke="#4C72B0" stroke-opacity="0.45" stroke-width="1.25"/>
<polyline points="1325.5,604.3 1325.5,595.1 1325.5,585.9 1325.5,576.7 1325.5,567.5 1328.3,567.5 1328.3,558.3 1333.8,558.3 1333.8,549.1 1333.8,539.9 1333.8,530.7 1333.8,521.5 1333.8,512.4 1333.8,503.2 1333.8,494.0 1336.6,494.0 1336.6,484.8 1336.6,475.6 1339.3,475.6 1339.3,466.4 1361.5,466.4 1361.5,457.2 1375.4,457.2 1375.4,448.0 1375.4,438.8 1375.4,429.6 1389.2,429.6 1389.2,420.4 1400.3,420.4 1400.3,411.2 1400.3,402.1 1414.2,402.1 1414.2,392.9 1416.9,392.9 1416.9,383.7 1439.1,383.7 1439.1,374.5 1439.1,365.3 1439.1,356.1 1464.1,356.1 1464.1,346.9 1502.9,346.9 1502.9,337.7 1522.3,337.7 1522.3,328.5 1522.3,319.3 1544.4,319.3 1544.4,310.1 1544.4,300.9 1544.4,291.7 1583.2,291.7 1583.2,282.6 1594.3,282.6 1594.3,273.4 1622.0,273.4 1622.0,264.2 1622.0,255.0 1683.0,255.0 1683.0,245.8 1688.6,245.8 1688.6,236.6 1719.0,236.6 1719.0,227.4 1719.0,218.2 1735.7,218.2 1735.7,209.0 1741.2,209.0 1741.2,199.8" fill="none" stroke="#DD8452" stroke-opacity="0.45" stroke-width="1.25"/>
<polyline points="1325.5,604.3 1328.3,604.3 1328.3,593.9 1328.3,583.5 1328.3,573.2 1331.0,573.2 1331.0,562.8 1333.8,562.8 1333.8,552.4 1333.8,542.1 1333.8,531.7 1336.6,531.7 1336.6,521.3 1339.3,521.3 1339.3,510.9 1339.3,500.6 1347.7,500.6 1347.7,490.2 1347.7,479.8 1361.5,479.8 1361.5,469.5 1361.5,459.1 1380.9,459.1 1380.9,448.7 1380.9,438.3 1380.9,428.0 1394.8,428.0 1394.8,417.6 1394.8,407.2 1419.7,407.2 1419.7,396.9 1419.7,386.5 1458.5,386.5 1458.5,376.1 1461.3,376.1 1461.3,365.8 1508.4,365.8 1508.4,355.4 1541.7,355.4 1541.7,345.0 1566.6,345.0 1566.6,334.6 1566.6,324.3 1588.8,324.3 1588.8,313.9 1624.8,313.9 1624.8,303.5 1624.8,293.2 1624.8,282.8 1633.1,282.8 1633.1,272.4 1663.6,272.4 1663.6,262.0 1674.7,262.0 1674.7,251.7 1674.7,241.3 1705.2,241.3 1705.2,230.9 1708.0,230.9 1708.0,220.6 1741.2,220.6 1741.2,210.2 1741.2,199.8" fill="none" stroke="#55A868" stroke-opacity="0.45" stroke-width="1.25"/>
<polyline points="1325.5,604.3 1325.5,591.2 1325.5,578.2 1325.5,565.1 1325.5,552.1 1328.3,552.1 1328.3,539.0 1336.6,539.0 1336.6,526.0 1342.1,526.0 1342.1,512.9 1342.1,499.9 1378.1,499.9 1378.1,486.9 1378.1,473.8 1383.7,473.8 1383.7,460.8 1383.7,447.7 1389.2,447.7 1389.2,434.7 1394.8,434.7 1394.8,421.6 1403.1,421.6 1403.1,408.6 1419.7,408.6 1419.7,395.5 1422.5,395.5 1422.5,382.5 1422.5,369.4 1491.8,369.4 1491.8,356.4 1516.7,356.4 1516.7,343.3 1536.1,343.3 1536.1,330.3 1541.7,330.3 1541.7,317.2 1563.8,317.2 1563.8,304.2 1586.0,304.2 1586.0,291.2 1599.9,291.2 1599.9,278.1 1641.4,278.1 1641.4,265.1 1699.6,265.1 1699.6,252.0 1699.6,239.0 1710.7,239.0 1710.7,225.9 1713.5,225.9 1713.5,212.9 1741.2,212.9 1741.2,199.8" fill="none" stroke="#C44E52" stroke-opacity="0.45" stroke-width="1.25"/>
<polyline points="1325.5,604.3 1325.5,594.6 1328.3,594.6 1328.3,585.0 1331.0,585.0 1331.0,575.4 1331.0,565.8 1333.8,565.8 1333.8,556.1 1333.8,546.5 1333.8,536.9 1333.8,527.2 1333.8,517.6 1333.8,508.0 1344.9,508.0 1344.9,498.3 1344.9,488.7 1344.9,479.1 1386.5,479.1 1386.5,469.5 1386.5,459.8 1386.5,450.2 1386.5,440.6 1400.3,440.6 1400.3,430.9 1408.6,430.9 1408.6,421.3 1408.6,411.7 1419.7,411.7 1419.7,402.1 1419.7,392.4 1419.7,382.8 1422.5,382.8 1422.5,373.2 1430.8,373.2 1430.8,363.5 1447.4,363.5 1447.4,353.9 1447.4,344.3 1547.2,344.3 1547.2,334.6 1547.2,325.0 1547.2,315.4 1561.1,315.4 1561.1,305.8 1574.9,305.8 1574.9,296.1 1583.2,296.1 1583.2,286.5 1583.2,276.9 1605.4,276.9 1605.4,267.2 1655.3,267.2 1655.3,257.6 1677.5,257.6 1677.5,248.0 1694.1,248.0 1694.1,238.3 1694.1,228.7 1741.2,228.7 1741.2,219.1 1741.2,209.5 1741.2,199.8" fill="none" stroke="#8172B3" stroke-opacity="0.45" stroke-width="1.25"/>
<polyline points="1325.5,604.3 1325.5,593.6 1328.3,593.6 1328.3,583.0 1328.3,572.3 1328.3,561.7 1331.0,561.7 1331.0,551.1 1331.0,540.4 1331.0,529.8 1350.4,529.8 1350.4,519.1 1356.0,519.1 1356.0,508.5 1364.3,508.5 1364.3,497.8 1372.6,497.8 1372.6,487.2 1372.6,476.6 1378.1,476.6 1378.1,465.9 1378.1,455.3 1378.1,444.6 1386.5,444.6 1386.5,434.0 1386.5,423.3 1386.5,412.7 1400.3,412.7 1400.3,402.1 1403.1,402.1 1403.1,391.4 1447.4,391.4 1447.4,380.8 1505.6,380.8 1505.6,370.1 1516.7,370.1 1516.7,359.5 1547.2,359.5 1547.2,348.8 1580.5,348.8 1580.5,338.2 1602.6,338.2 1602.6,327.5 1611.0,327.5 1611.0,316.9 1633.1,316.9 1633.1,306.3 1652.5,306.3 1652.5,295.6 1680.2,295.6 1680.2,285.0 1696.9,285.0 1696.9,274.3 1696.9,263.7 1702.4,263.7 1702.4,253.0 1702.4,242.4 1702.4,231.8 1702.4,221.1 1721.8,221.1 1721.8,210.5 1741.2,210.5 1741.2,199.8" fill="none" stroke="#937860" stroke-opacity="0.45" stroke-width="1.25"/>
<polyline points="1325.5,604.3 1325.5,593.6 1331.0,593.6 1331.0,583.0 1331.0,572.3 1336.6,572.3 1336.6,561.7 1336.6,551.1 1336.6,540.4 1336.6,529.8 1336.6,519.1 1336.6,508.5 1336.6,497.8 1344.9,497.8 1344.9,487.2 1344.9,476.6 1344.9,465.9 1367.1,465.9 1367.1,455.3 1380.9,455.3 1380.9,444.6 1389.2,444.6 1389.2,434.0 1400.3,434.0 1400.3,423.3 1400.3,412.7 1411.4,412.7 1411.4,402.1 1428.0,402.1 1428.0,391.4 1500.1,391.4 1500.1,380.8 1500.1,370.1 1538.9,370.1 1538.9,359.5 1555.5,359.5 1555.5,348.8 1555.5,338.2 1574.9,338.2 1574.9,327.5 1599.9,327.5 1599.9,316.9 1599.9,306.3 1611.0,306.3 1611.0,295.6 1619.3,295.6 1619.3,285.0 1627.6,285.0 1627.6,274.3 1644.2,274.3 1644.2,263.7 1669.2,263.7 1669.2,253.0 1699.6,253.0 1699.6,242.4 1699.6,231.8 1699.6,221.1 1730.1,221.1 1730.1,210.5 1730.1,199.8 1741.2,199.8" fill="none" stroke="#DA8BC3" stroke-opacity="0.45" stroke-width="1.25"/>
<polyline points="1325.5,604.3 1328.3,604.3 1328.3,593.6 1328.3,583.0 1328.3,572.3 1339.3,572.3 1339.3,561.7 1339.3,551.1 1339.3,540.4 1339.3,529.8 1344.9,529.8 1344.9,519.1 1347.7,519.1 1347.7,508.5 1369.8,508.5 1369.8,497.8 1372.6,497.8 1372.6,487.2 1380.9,487.2 1380.9,476.6 1380.9,465.9 1392.0,465.9 1392.0,455.3 1414.2,455.3 1414.2,444.6 1414.2,434.0 1422.5,434.0 1422.5,423.3 1428.0,423.3 1428.0,412.7 1433.6,412.7 1433.6,402.1 1433.6,391.4 1433.6,380.8 1497.3,380.8 1497.3,370.1 1530.6,370.1 1530.6,359.5 1547.2,359.5 1547.2,348.8 1563.8,348.8 1563.8,338.2 1574.9,338.2 1574.9,327.5 1586.0,327.5 1586.0,316.9 1586.0,306.3 1588.8,306.3 1588.8,295.6 1619.3,295.6 1619.3,285.0 1641.4,285.0 1641.4,274.3 1669.2,274.3 1669.2,263.7 1669.2,253.0 1694.1,253.0 1694.1,242.4 1694.1,231.8 1719.0,231.8 1719.0,221.1 1719.0,210.5 1741.2,210.5 1741.2,199.8" fill="none" stroke="#8C8C8C" stroke-opacity="0.45" stroke-width="1.25"/>
<polyline points="1325.5,604.3 1328.3,604.3 1328.3,592.7 1331.0,592.7 1331.0,581.2 1333.8,581.2 1333.8,569.6 1333.8,558.1 1333.8,546.5 1333.8,534.9 1333.8,523.4 1333.8,511.8 1336.6,511.8 1336.6,500.3 1336.6,488.7 1353.2,488.7 1353.2,477.2 1353.2,465.6 1353.2,454.1 1375.4,454.1 1375.4,442.5 1375.4,430.9 1375.4,419.4 1375.4,407.8 1383.7,407.8 1383.7,396.3 1422.5,396.3 1422.5,384.7 1425.3,384.7 1425.3,373.2 1439.1,373.2 1439.1,361.6 1450.2,361.6 1450.2,350.0 1530.6,350.0 1530.6,338.5 1541.7,338.5 1541.7,326.9 1552.8,326.9 1552.8,315.4 1572.2,315.4 1572.2,303.8 1602.6,303.8 1602.6,292.3 1627.6,292.3 1627.6,280.7 1635.9,280.7 1635.9,269.2 1674.7,269.2 1674.7,257.6 1724.6,257.6 1724.6,246.0 1724.6,234.5 1724.6,222.9 1741.2,222.9 1741.2,211.4 1741.2,199.8" fill="none" stroke="#CCB974" stroke-opacity="0.45" stroke-width="1.25"/>
<polyline points="1325.5,604.3 1328.3,604.3 1328.3,589.8 1328.3,575.4 1328.3,560.9 1331.0,560.9 1331.0,546.5 1331.0,532.1 1336.6,532.1 1336.6,517.6 1336.6,503.2 1336.6,488.7 1358.7,488.7 1358.7,474.3 1358.7,459.8 1358.7,445.4 1367.1,445.4 1367.1,430.9 1386.5,430.9 1386.5,416.5 1408.6,416.5 1408.6,402.1 1430.8,402.1 1430.8,387.6 1516.7,387.6 1516.7,373.2 1536.1,373.2 1536.1,358.7 1577.7,358.7 1577.7,344.3 1591.6,344.3 1591.6,329.8 1602.6,329.8 1602.6,315.4 1641.4,315.4 1641.4,300.9 1666.4,300.9 1666.4,286.5 1688.6,286.5 1688.6,272.0 1710.7,272.0 1710.7,257.6 1730.1,257.6 1730.1,243.2 1730.1,228.7 1741.2,228.7 1741.2,214.3 1741.2,199.8" fill="none" stroke="#64B5CD" stroke-opacity="0.45" stroke-width="1.25"/>
<polyline points="1325.5,604.3 1325.5,593.6 1328.3,593.6 1328.3,583.0 1331.0,583.0 1331.0,572.3 1331.0,561.7 1331.0,551.1 1331.0,540.4 1331.0,529.8 1331.0,519.1 1331.0,508.5 1331.0,497.8 1339.3,497.8 1339.3,487.2 1339.3,476.6 1361.5,476.6 1361.5,465.9 1361.5,455.3 1361.5,444.6 1372.6,444.6 1372.6,434.0 1400.3,434.0 1400.3,423.3 1400.3,412.7 1400.3,402.1 1433.6,402.1 1433.6,391.4 1444.7,391.4 1444.7,380.8 1494.5,380.8 1494.5,370.1 1508.4,370.1 1508.4,359.5 1527.8,359.5 1527.8,348.8 1550.0,348.8 1550.0,338.2 1566.6,338.2 1566.6,327.5 1566.6,316.9 1602.6,316.9 1602.6,306.3 1602.6,295.6 1602.6,285.0 1611.0,285.0 1611.0,274.3 1624.8,274.3 1624.8,263.7 1685.8,263.7 1685.8,253.0 1691.3,253.0 1691.3,242.4 1691.3,231.8 1699.6,231.8 1699.6,221.1 1713.5,221.1 1713.5,210.5 1732.9,210.5 1732.9,199.8 1741.2,199.8" fill="none" stroke="#4C72B0" stroke-opacity="0.45" stroke-width="1.25"/>
<polyline points="1325.5,604.3 1328.3,604.3 1328.3,593.9 1328.3,583.5 1328.3,573.2 1333.8,573.2 1333.8,562.8 1333.8,552.4 1333.8,542.1 1336.6,542.1 1336.6,531.7 1336.6,521.3 1336.6,510.9 1336.6,500.6 1336.6,490.2 1347.7,490.2 1347.7,479.8 1347.7,469.5 1347.7,459.1 1369.8,459.1 1369.8,448.7 1369.8,438.3 1369.8,428.0 1369.8,417.6 1369.8,407.2 1369.8,396.9 1394.8,396.9 1394.8,386.5 1403.1,386.5 1403.1,376.1 1414.2,376.1 1414.2,365.8 1433.6,365.8 1433.6,355.4 1500.1,355.4 1500.1,345.0 1536.1,345.0 1536.1,334.6 1552.8,334.6 1552.8,324.3 1552.8,313.9 1580.5,313.9 1580.5,303.5 1580.5,293.2 1588.8,293.2 1588.8,282.8 1633.1,282.8 1633.1,272.4 1638.7,272.4 1638.7,262.0 1680.2,262.0 1680.2,251.7 1710.7,251.7 1710.7,241.3 1710.7,230.9 1710.7,220.6 1732.9,220.6 1732.9,210.2 1741.2,210.2 1741.2,199.8" fill="none" stroke="#DD8452" stroke-opacity="0.45" stroke-width="1.25"/>
<polyline points="1325.5,604.3 1328.3,604.3 1328.3,590.8 1331.0,590.8 1331.0,577.3 1333.8,577.3 1333.8,563.8 1333.8,550.4 1333.8,536.9 1333.8,523.4 1333.8,509.9 1339.3,509.9 1339.3,496.4 1353.2,496.4 1353.2,482.9 1353.2,469.5 1367.1,469.5 1367.1,456.0 1372.6,456.0 1372.6,442.5 1392.0,442.5 1392.0,429.0 1392.0,415.5 1419.7,415.5 1419.7,402.1 1511.2,402.1 1511.2,388.6 1530.6,388.6 1530.6,375.1 1536.1,375.1 1536.1,361.6 1566.6,361.6 1566.6,348.1 1599.9,348.1 1599.9,334.6 1599.9,321.2 1608.2,321.2 1608.2,307.7 1647.0,307.7 1647.0,294.2 1647.0,280.7 1660.8,280.7 1660.8,267.2 1663.6,267.2 1663.6,253.8 1677.5,253.8 1677.5,240.3 1713.5,240.3 1713.5,226.8 1713.5,213.3 1716.3,213.3 1716.3,199.8 1741.2,199.8" fill="none" stroke="#55A868" stroke-opacity="0.45" stroke-width="1.25"/>
<polyline points="1325.5,604.3 1325.5,589.3 1325.5,574.3 1325.5,559.3 1325.5,544.4 1325.5,529.4 1325.5,514.4 1325.5,499.4 1325.5,484.4 1333.8,484.4 1333.8,469.5 1356.0,469.5 1356.0,454.5 1372.6,454.5 1372.6,439.5 1372.6,424.5 1378.1,424.5 1378.1,409.5 1397.5,409.5 1397.5,394.6 1403.1,394.6 1403.1,379.6 1422.5,379.6 1422.5,364.6 1494.5,364.6 1494.5,349.6 1508.4,349.6 1508.4,334.6 1511.2,334.6 1511.2,319.7 1533.3,319.7 1533.3,304.7 1533.3,289.7 1580.5,289.7 1580.5,274.7 1586.0,274.7 1586.0,259.7 1641.4,259.7 1641.4,244.8 1660.8,244.8 1660.8,229.8 1691.3,229.8 1691.3,214.8 1727.4,214.8 1727.4,199.8 1741.2,199.8" fill="none" stroke="#C44E52" stroke-opacity="0.45" stroke-width="1.25"/>
<polyline points="1325.5,604.3 1328.3,604.3 1328.3,591.2 1328.3,578.2 1328.3,565.1 1328.3,552.1 1331.0,552.1 1331.0,539.0 1331.0,526.0 1331.0,512.9 1331.0,499.9 1331.0,486.9 1342.1,486.9 1342.1,473.8 1367.1,473.8 1367.1,460.8 1367.1,447.7 1386.5,447.7 1386.5,434.7 1386.5,421.6 1386.5,408.6 1411.4,408.6 1411.4,395.5 1411.4,382.5 1441.9,382.5 1441.9,369.4 1522.3,369.4 1522.3,356.4 1527.8,356.4 1527.8,343.3 1555.5,343.3 1555.5,330.3 1602.6,330.3 1602.6,317.2 1602.6,304.2 1619.3,304.2 1619.3,291.2 1647.0,291.2 1647.0,278.1 1666.4,278.1 1666.4,265.1 1696.9,265.1 1696.9,252.0 1716.3,252.0 1716.3,239.0 1716.3,225.9 1741.2,225.9 1741.2,212.9 1741.2,199.8" fill="none" stroke="#8172B3" stroke-opacity="0.45" stroke-width="1.25"/>
<polyline points="1325.5,604.3 1325.5,593.0 1325.5,581.8 1325.5,570.6 1325.5,559.3 1331.0,559.3 1331.0,548.1 1331.0,536.9 1333.8,536.9 1333.8,525.6 1339.3,525.6 1339.3,514.4 1339.3,503.2 1339.3,491.9 1339.3,480.7 1361.5,480.7 1361.5,469.5 1361.5,458.2 1361.5,447.0 1361.5,435.8 1361.5,424.5 1367.1,424.5 1367.1,413.3 1367.1,402.1 1372.6,402.1 1372.6,390.8 1378.1,390.8 1378.1,379.6 1394.8,379.6 1394.8,368.3 1422.5,368.3 1422.5,357.1 1455.7,357.1 1455.7,345.9 1525.0,345.9 1525.0,334.6 1538.9,334.6 1538.9,323.4 1550.0,323.4 1550.0,312.2 1580.5,312.2 1580.5,300.9 1599.9,300.9 1599.9,289.7 1599.9,278.5 1630.4,278.5 1630.4,267.2 1644.2,267.2 1644.2,256.0 1694.1,256.0 1694.1,244.8 1694.1,233.5 1694.1,222.3 1719.0,222.3 1719.0,211.1 1719.0,199.8 1741.2,199.8" fill="none" stroke="#937860" stroke-opacity="0.45" stroke-width="1.25"/>
<polyline points="1325.5,604.3 1325.5,592.4 1328.3,592.4 1328.3,580.5 1328.3,568.6 1328.3,556.7 1339.3,556.7 1339.3,544.8 1339.3,532.9 1347.7,532.9 1347.7,521.0 1347.7,509.1 1369.8,509.1 1369.8,497.2 1369.8,485.3 1380.9,485.3 1380.9,473.4 1383.7,473.4 1383.7,461.5 1383.7,449.6 1400.3,449.6 1400.3,437.7 1419.7,437.7 1419.7,425.8 1419.7,413.9 1425.3,413.9 1425.3,402.1 1425.3,390.2 1480.7,390.2 1480.7,378.3 1491.8,378.3 1491.8,366.4 1525.0,366.4 1525.0,354.5 1555.5,354.5 1555.5,342.6 1563.8,342.6 1563.8,330.7 1586.0,330.7 1586.0,318.8 1588.8,318.8 1588.8,306.9 1635.9,306.9 1635.9,295.0 1671.9,295.0 1671.9,283.1 1671.9,271.2 1685.8,271.2 1685.8,259.3 1710.7,259.3 1710.7,247.4 1710.7,235.5 1741.2,235.5 1741.2,223.6 1741.2,211.7 1741.2,199.8" fill="none" stroke="#DA8BC3" stroke-opacity="0.45" stroke-width="1.25"/>
<polyline points="1325.5,604.3 1325.5,594.2 1325.5,584.1 1325.5,573.9 1328.3,573.9 1328.3,563.8 1328.3,553.7 1333.8,553.7 1333.8,543.6 1333.8,533.5 1344.9,533.5 1344.9,523.4 1344.9,513.3 1356.0,513.3 1356.0,503.2 1356.0,493.1 1367.1,493.1 1367.1,482.9 1369.8,482.9 1369.8,472.8 1378.1,472.8 1378.1,462.7 1392.0,462.7 1392.0,452.6 1392.0,442.5 1392.0,432.4 1419.7,432.4 1419.7,422.3 1419.7,412.2 1419.7,402.1 1444.7,402.1 1444.7,391.9 1497.3,391.9 1497.3,381.8 1497.3,371.7 1505.6,371.7 1505.6,361.6 1530.6,361.6 1530.6,351.5 1544.4,351.5 1544.4,341.4 1544.4,331.3 1574.9,331.3 1574.9,321.2 1574.9,311.0 1583.2,311.0 1583.2,300.9 1599.9,300.9 1599.9,290.8 1622.0,290.8 1622.0,280.7 1663.6,280.7 1663.6,270.6 1685.8,270.6 1685.8,260.5 1685.8,250.4 1713.5,250.4 1713.5,240.3 1713.5,230.2 1713.5,220.0 1741.2,220.0 1741.2,209.9 1741.2,199.8" fill="none" stroke="#8C8C8C" stroke-opacity="0.45" stroke-width="1.25"/>
<polyline points="1325.5,604.3 1325.5,594.4 1325.5,584.5 1328.3,584.5 1328.3,574.7 1328.3,564.8 1328.3,555.0 1328.3,545.1 1331.0,545.1 1331.0,535.2 1331.0,525.4 1331.0,515.5 1339.3,515.5 1339.3,505.6 1339.3,495.8 1339.3,485.9 1339.3,476.0 1339.3,466.2 1339.3,456.3 1361.5,456.3 1361.5,446.4 1361.5,436.6 1378.1,436.6 1378.1,426.7 1378.1,416.8 1383.7,416.8 1383.7,407.0 1414.2,407.0 1414.2,397.1 1425.3,397.1 1425.3,387.3 1425.3,377.4 1436.3,377.4 1436.3,367.5 1436.3,357.7 1497.3,357.7 1497.3,347.8 1522.3,347.8 1522.3,337.9 1550.0,337.9 1550.0,328.1 1550.0,318.2 1572.2,318.2 1572.2,308.3 1580.5,308.3 1580.5,298.5 1583.2,298.5 1583.2,288.6 1605.4,288.6 1605.4,278.7 1644.2,278.7 1644.2,268.9 1647.0,268.9 1647.0,259.0 1691.3,259.0 1691.3,249.1 1708.0,249.1 1708.0,239.3 1708.0,229.4 1732.9,229.4 1732.9,219.6 1741.2,219.6 1741.2,209.7 1741.2,199.8" fill="none" stroke="#CCB974" stroke-opacity="0.45" stroke-width="1.25"/>
<polyline points="1325.5,604.3 1325.5,591.6 1325.5,579.0 1325.5,566.4 1331.0,566.4 1331.0,553.7 1333.8,553.7 1333.8,541.1 1333.8,528.4 1333.8,515.8 1333.8,503.2 1333.8,490.5 1333.8,477.9 1333.8,465.2 1358.7,465.2 1358.7,452.6 1369.8,452.6 1369.8,440.0 1372.6,440.0 1372.6,427.3 1380.9,427.3 1380.9,414.7 1389.2,414.7 1389.2,402.1 1411.4,402.1 1411.4,389.4 1416.9,389.4 1416.9,376.8 1433.6,376.8 1433.6,364.1 1433.6,351.5 1508.4,351.5 1508.4,338.9 1522.3,338.9 1522.3,326.2 1541.7,326.2 1541.7,313.6 1552.8,313.6 1552.8,300.9 1555.5,300.9 1555.5,288.3 1569.4,288.3 1569.4,275.7 1577.7,275.7 1577.7,263.0 1630.4,263.0 1630.4,250.4 1696.9,250.4 1696.9,237.7 1721.8,237.7 1721.8,225.1 1721.8,212.5 1732.9,212.5 1732.9,199.8 1741.2,199.8" fill="none" stroke="#64B5CD" stroke-opacity="0.45" stroke-width="1.25"/>
<polyline points="1325.5,604.3 1325.5,594.9 1325.5,585.5 1325.5,576.1 1325.5,566.7 1328.3,566.7 1328.3,557.2 1328.3,547.8 1328.3,538.4 1328.3,529.0 1328.3,519.6 1331.0,519.6 1331.0,510.2 1331.0,500.8 1333.8,500.8 1333.8,491.4 1344.9,491.4 1344.9,482.0 1369.8,482.0 1369.8,472.6 1369.8,463.2 1375.4,463.2 1375.4,453.8 1375.4,444.4 1375.4,435.0 1394.8,435.0 1394.8,425.6 1394.8,416.2 1411.4,416.2 1411.4,406.8 1414.2,406.8 1414.2,397.3 1439.1,397.3 1439.1,387.9 1453.0,387.9 1453.0,378.5 1453.0,369.1 1522.3,369.1 1522.3,359.7 1522.3,350.3 1533.3,350.3 1533.3,340.9 1538.9,340.9 1538.9,331.5 1561.1,331.5 1561.1,322.1 1561.1,312.7 1569.4,312.7 1569.4,303.3 1577.7,303.3 1577.7,293.9 1599.9,293.9 1599.9,284.5 1622.0,284.5 1622.0,275.1 1635.9,275.1 1635.9,265.7 1660.8,265.7 1660.8,256.3 1666.4,256.3 1666.4,246.9 1666.4,237.4 1696.9,237.4 1696.9,228.0 1699.6,228.0 1699.6,218.6 1716.3,218.6 1716.3,209.2 1741.2,209.2 1741.2,199.8" fill="none" stroke="#4C72B0" stroke-opacity="0.45" stroke-width="1.25"/>
<polyline points="1325.5,604.3 1325.5,589.8 1325.5,575.4 1325.5,560.9 1325.5,546.5 1333.8,546.5 1333.8,532.1 1333.8,517.6 1344.9,517.6 1344.9,503.2 1358.7,503.2 1358.7,488.7 1367.1,488.7 1367.1,474.3 1372.6,474.3 1372.6,459.8 1408.6,459.8 1408.6,445.4 1408.6,430.9 1419.7,430.9 1419.7,416.5 1422.5,416.5 1422.5,402.1 1483.5,402.1 1483.5,387.6 1483.5,373.2 1494.5,373.2 1494.5,358.7 1550.0,358.7 1550.0,344.3 1561.1,344.3 1561.1,329.8 1561.1,315.4 1577.7,315.4 1577.7,300.9 1611.0,300.9 1611.0,286.5 1633.1,286.5 1633.1,272.0 1688.6,272.0 1688.6,257.6 1688.6,243.2 1688.6,228.7 1688.6,214.3 1741.2,214.3 1741.2,199.8" fill="none" stroke="#DD8452" stroke-opacity="0.45" stroke-width="1.25"/>
<polyline points="1325.5,604.3 1325.5,589.8 1333.8,589.8 1333.8,575.4 1336.6,575.4 1336.6,560.9 1339.3,560.9 1339.3,546.5 1339.3,532.1 1342.1,532.1 1342.1,517.6 1350.4,517.6 1350.4,503.2 1358.7,503.2 1358.7,488.7 1375.4,488.7 1375.4,474.3 1383.7,474.3 1383.7,459.8 1383.7,445.4 1405.9,445.4 1405.9,430.9 1436.3,430.9 1436.3,416.5 1436.3,402.1 1453.0,402.1 1453.0,387.6 1530.6,387.6 1530.6,373.2 1530.6,358.7 1561.1,358.7 1561.1,344.3 1561.1,329.8 1594.3,329.8 1594.3,315.4 1597.1,315.4 1597.1,300.9 1619.3,300.9 1619.3,286.5 1647.0,286.5 1647.0,272.0 1685.8,272.0 1685.8,257.6 1699.6,257.6 1699.6,243.2 1699.6,228.7 1741.2,228.7 1741.2,214.3 1741.2,199.8" fill="none" stroke="#55A868" stroke-opacity="0.45" stroke-width="1.25"/>
<polyline points="1325.5,604.3 1325.5,593.0 1328.3,593.0 1328.3,581.8 1328.3,570.6 1331.0,570.6 1331.0,559.3 1333.8,559.3 1333.8,548.1 1333.8,536.9 1342.1,536.9 1342.1,525.6 1342.1,514.4 1342.1,503.2 1356.0,503.2 1356.0,491.9 1358.7,491.9 1358.7,480.7 1358.7,469.5 1361.5,469.5 1361.5,458.2 1389.2,458.2 1389.2,447.0 1389.2,435.8 1389.2,424.5 1389.2,413.3 1408.6,413.3 1408.6,402.1 1408.6,390.8 1414.2,390.8 1414.2,379.6 1475.1,379.6 1475.1,368.3 1516.7,368.3 1516.7,357.1 1541.7,357.1 1541.7,345.9 1541.7,334.6 1566.6,334.6 1566.6,323.4 1602.6,323.4 1602.6,312.2 1624.8,312.2 1624.8,300.9 1624.8,289.7 1671.9,289.7 1671.9,278.5 1696.9,278.5 1696.9,267.2 1696.9,256.0 1696.9,244.8 1702.4,244.8 1702.4,233.5 1702.4,222.3 1732.9,222.3 1732.9,211.1 1738.4,211.1 1738.4,199.8 1741.2,199.8" fill="none" stroke="#C44E52" stroke-opacity="0.45" stroke-width="1.25"/>
<polyline points="1325.5,604.3 1328.3,604.3 1328.3,593.9 1331.0,593.9 1331.0,583.5 1331.0,573.2 1339.3,573.2 1339.3,562.8 1339.3,552.4 1339.3,542.1 1339.3,531.7 1339.3,521.3 1344.9,521.3 1344.9,510.9 1353.2,510.9 1353.2,500.6 1361.5,500.6 1361.5,490.2 1372.6,490.2 1372.6,479.8 1380.9,479.8 1380.9,469.5 1380.9,459.1 1392.0,459.1 1392.0,448.7 1392.0,438.3 1392.0,428.0 1392.0,417.6 1419.7,417.6 1419.7,407.2 1419.7,396.9 1422.5,396.9 1422.5,386.5 1516.7,386.5 1516.7,376.1 1541.7,376.1 1541.7,365.8 1555.5,365.8 1555.5,355.4 1555.5,345.0 1572.2,345.0 1572.2,334.6 1605.4,334.6 1605.4,324.3 1611.0,324.3 1611.0,313.9 1611.0,303.5 1647.0,303.5 1647.0,293.2 1671.9,293.2 1671.9,282.8 1688.6,282.8 1688.6,272.4 1738.4,272.4 1738.4,262.0 1738.4,251.7 1738.4,241.3 1738.4,230.9 1741.2,230.9 1741.2,220.6 1741.2,210.2 1741.2,199.8" fill="none" stroke="#8172B3" stroke-opacity="0.45" stroke-width="1.25"/>
<polyline points="1325.5,604.3 1325.5,590.8 1325.5,577.3 1325.5,563.8 1325.5,550.4 1328.3,550.4 1328.3,536.9 1333.8,536.9 1333.8,523.4 1339.3,523.4 1339.3,509.9 1367.1,509.9 1367.1,496.4 1380.9,496.4 1380.9,482.9 1380.9,469.5 1380.9,456.0 1392.0,456.0 1392.0,442.5 1394.8,442.5 1394.8,429.0 1394.8,415.5 1400.3,415.5 1400.3,402.1 1403.1,402.1 1403.1,388.6 1461.3,388.6 1461.3,375.1 1502.9,375.1 1502.9,361.6 1533.3,361.6 1533.3,348.1 1533.3,334.6 1569.4,334.6 1569.4,321.2 1594.3,321.2 1594.3,307.7 1619.3,307.7 1619.3,294.2 1663.6,294.2 1663.6,280.7 1683.0,280.7 1683.0,267.2 1683.0,253.8 1702.4,253.8 1702.4,240.3 1705.2,240.3 1705.2,226.8 1741.2,226.8 1741.2,213.3 1741.2,199.8" fill="none" stroke="#937860" stroke-opacity="0.45" stroke-width="1.25"/>
<polyline points="1325.5,604.3 1325.5,594.2 1325.5,584.1 1328.3,584.1 1328.3,573.9 1328.3,563.8 1328.3,553.7 1339.3,553.7 1339.3,543.6 1339.3,533.5 1339.3,523.4 1339.3,513.3 1339.3,503.2 1358.7,503.2 1358.7,493.1 1358.7,482.9 1358.7,472.8 1372.6,472.8 1372.6,462.7 1378.1,462.7 1378.1,452.6 1378.1,442.5 1386.5,442.5 1386.5,432.4 1419.7,432.4 1419.7,422.3 1419.7,412.2 1425.3,412.2 1425.3,402.1 1464.1,402.1 1464.1,391.9 1530.6,391.9 1530.6,381.8 1538.9,381.8 1538.9,371.7 1538.9,361.6 1552.8,361.6 1552.8,351.5 1566.6,351.5 1566.6,341.4 1580.5,341.4 1580.5,331.3 1602.6,331.3 1602.6,321.2 1633.1,321.2 1633.1,311.0 1638.7,311.0 1638.7,300.9 1644.2,300.9 1644.2,290.8 1677.5,290.8 1677.5,280.7 1683.0,280.7 1683.0,270.6 1719.0,270.6 1719.0,260.5 1719.0,250.4 1721.8,250.4 1721.8,240.3 1721.8,230.2 1721.8,220.0 1730.1,220.0 1730.1,209.9 1741.2,209.9 1741.2,199.8" fill="none" stroke="#DA8BC3" stroke-opacity="0.45" stroke-width="1.25"/>
<polyline points="1325.5,604.3 1328.3,604.3 1328.3,593.3 1328.3,582.4 1328.3,571.5 1336.6,571.5 1336.6,560.6 1336.6,549.6 1336.6,538.7 1336.6,527.8 1339.3,527.8 1339.3,516.8 1339.3,505.9 1342.1,505.9 1342.1,495.0 1347.7,495.0 1347.7,484.0 1372.6,484.0 1372.6,473.1 1372.6,462.2 1372.6,451.2 1389.2,451.2 1389.2,440.3 1389.2,429.4 1394.8,429.4 1394.8,418.4 1405.9,418.4 1405.9,407.5 1430.8,407.5 1430.8,396.6 1430.8,385.7 1461.3,385.7 1461.3,374.7 1541.7,374.7 1541.7,363.8 1541.7,352.9 1547.2,352.9 1547.2,341.9 1558.3,341.9 1558.3,331.0 1594.3,331.0 1594.3,320.1 1594.3,309.1 1605.4,309.1 1605.4,298.2 1638.7,298.2 1638.7,287.3 1666.4,287.3 1666.4,276.3 1708.0,276.3 1708.0,265.4 1708.0,254.5 1738.4,254.5 1738.4,243.5 1738.4,232.6 1738.4,221.7 1741.2,221.7 1741.2,210.8 1741.2,199.8" fill="none" stroke="#8C8C8C" stroke-opacity="0.45" stroke-width="1.25"/>
<polyline points="1325.5,604.3 1325.5,593.0 1328.3,593.0 1328.3,581.8 1328.3,570.6 1328.3,559.3 1328.3,548.1 1328.3,536.9 1328.3,525.6 1328.3,514.4 1331.0,514.4 1331.0,503.2 1331.0,491.9 1339.3,491.9 1339.3,480.7 1342.1,480.7 1342.1,469.5 1358.7,469.5 1358.7,458.2 1358.7,447.0 1358.7,435.8 1358.7,424.5 1364.3,424.5 1364.3,413.3 1383.7,413.3 1383.7,402.1 1392.0,402.1 1392.0,390.8 1392.0,379.6 1403.1,379.6 1403.1,368.3 1433.6,368.3 1433.6,357.1 1464.1,357.1 1464.1,345.9 1505.6,345.9 1505.6,334.6 1511.2,334.6 1511.2,323.4 1555.5,323.4 1555.5,312.2 1555.5,300.9 1577.7,300.9 1577.7,289.7 1580.5,289.7 1580.5,278.5 1622.0,278.5 1622.0,267.2 1671.9,267.2 1671.9,256.0 1699.6,256.0 1699.6,244.8 1699.6,233.5 1699.6,222.3 1741.2,222.3 1741.2,211.1 1741.2,199.8" fill="none" stroke="#CCB974" stroke-opacity="0.45" stroke-width="1.25"/>
<polyline points="1325.5,604.3 1325.5,593.3 1328.3,593.3 1328.3,582.4 1328.3,571.5 1328.3,560.6 1331.0,560.6 1331.0,549.6 1331.0,538.7 1331.0,527.8 1333.8,527.8 1333.8,516.8 1339.3,516.8 1339.3,505.9 1350.4,505.9 1350.4,495.0 1378.1,495.0 1378.1,484.0 1389.2,484.0 1389.2,473.1 1389.2,462.2 1400.3,462.2 1400.3,451.2 1400.3,440.3 1411.4,440.3 1411.4,429.4 1411.4,418.4 1444.7,418.4 1444.7,407.5 1444.7,396.6 1450.2,396.6 1450.2,385.7 1500.1,385.7 1500.1,374.7 1500.1,363.8 1550.0,363.8 1550.0,352.9 1550.0,341.9 1550.0,331.0 1586.0,331.0 1586.0,320.1 1591.6,320.1 1591.6,309.1 1627.6,309.1 1627.6,298.2 1658.1,298.2 1658.1,287.3 1696.9,287.3 1696.9,276.3 1702.4,276.3 1702.4,265.4 1702.4,254.5 1727.4,254.5 1727.4,243.5 1727.4,232.6 1727.4,221.7 1741.2,221.7 1741.2,210.8 1741.2,199.8" fill="none" stroke="#64B5CD" stroke-opacity="0.45" stroke-width="1.25"/>
<polygon points="1325.5,582.0 1327.6,559.9 1329.6,526.2 1331.7,488.3 1333.8,480.0 1335.9,474.4 1338.0,470.3 1340.0,472.8 1342.1,471.8 1344.2,469.4 1346.3,470.5 1348.4,469.0 1350.4,469.8 1352.5,467.8 1354.6,465.5 1356.7,461.6 1358.7,455.0 1360.8,450.4 1362.9,443.2 1365.0,437.0 1367.1,431.7 1369.1,427.0 1371.2,421.0 1373.3,414.7 1375.4,411.2 1377.5,408.9 1379.5,408.5 1381.6,408.1 1383.7,406.5 1385.8,404.1 1387.8,402.2 1389.9,401.6 1392.0,400.3 1394.1,398.4 1396.2,396.2 1398.2,394.0 1400.3,393.1 1402.4,391.2 1404.5,387.8 1406.6,385.0 1408.6,384.4 1410.7,382.2 1412.8,380.1 1414.9,378.4 1416.9,375.1 1419.0,372.9 1421.1,372.5 1423.2,369.0 1425.3,367.7 1427.3,366.6 1429.4,366.6 1431.5,366.3 1433.6,364.3 1435.7,363.2 1437.7,362.6 1439.8,360.8 1441.9,360.3 1444.0,359.4 1446.0,359.7 1448.1,358.7 1450.2,358.1 1452.3,357.9 1454.4,358.3 1456.4,357.9 1458.5,357.9 1460.6,357.9 1462.7,357.8 1464.8,357.5 1466.8,357.5 1468.9,357.5 1471.0,357.3 1473.1,357.3 1475.1,357.3 1477.2,357.3 1479.3,357.3 1481.4,357.9 1483.5,358.1 1485.5,358.1 1487.6,358.1 1489.7,357.3 1491.8,357.0 1493.9,355.9 1495.9,354.6 1498.0,353.8 1500.1,352.9 1502.2,351.4 1504.2,349.1 1506.3,347.0 1508.4,344.0 1510.5,342.5 1512.6,339.8 1514.6,338.5 1516.7,338.0 1518.8,336.6 1520.9,335.5 1523.0,333.5 1525.0,332.2 1527.1,330.9 1529.2,329.5 1531.3,329.6 1533.3,326.5 1535.4,325.2 1537.5,324.3 1539.6,323.7 1541.7,322.6 1543.7,321.1 1545.8,318.6 1547.9,315.7 1550.0,314.2 1552.1,312.7 1554.1,310.8 1556.2,309.7 1558.3,308.1 1560.4,306.2 1562.5,304.2 1564.5,302.6 1566.6,301.8 1568.7,300.8 1570.8,299.0 1572.8,298.1 1574.9,296.6 1577.0,295.6 1579.1,294.5 1581.2,292.7 1583.2,289.8 1585.3,288.4 1587.4,286.5 1589.5,285.0 1591.6,284.0 1593.6,281.9 1595.7,280.0 1597.8,277.7 1599.9,276.2 1601.9,274.6 1604.0,274.8 1606.1,273.5 1608.2,272.2 1610.3,271.0 1612.3,270.2 1614.4,269.5 1616.5,268.5 1618.6,267.5 1620.7,266.1 1622.7,264.4 1624.8,263.8 1626.9,262.7 1629.0,261.5 1631.0,259.9 1633.1,258.8 1635.2,257.6 1637.3,256.7 1639.4,255.4 1641.4,254.9 1643.5,254.5 1645.6,254.7 1647.7,255.2 1649.8,254.6 1651.8,254.1 1653.9,254.4 1656.0,253.8 1658.1,253.3 1660.1,252.9 1662.2,252.0 1664.3,251.8 1666.4,251.0 1668.5,250.1 1670.5,249.2 1672.6,249.2 1674.7,247.4 1676.8,245.8 1678.9,243.3 1680.9,241.3 1683.0,239.5 1685.1,237.8 1687.2,235.3 1689.2,232.5 1691.3,229.8 1693.4,228.1 1695.5,224.2 1697.6,223.6 1699.6,221.3 1701.7,219.0 1703.8,217.8 1705.9,214.6 1708.0,212.5 1710.0,209.7 1712.1,208.0 1714.2,206.4 1716.3,204.4 1718.3,202.4 1720.4,201.8 1722.5,201.1 1724.6,201.0 1726.7,200.1 1728.7,200.5 1730.8,201.4 1732.9,201.3 1735.0,199.8 1737.1,199.8 1739.1,199.8 1741.2,199.8 1741.2,199.8 1739.1,214.8 1737.1,222.5 1735.0,226.5 1732.9,229.0 1730.8,228.7 1728.7,229.3 1726.7,229.5 1724.6,230.3 1722.5,232.3 1720.4,233.8 1718.3,236.1 1716.3,238.1 1714.2,240.1 1712.1,242.6 1710.0,246.2 1708.0,249.1 1705.9,252.6 1703.8,254.8 1701.7,258.1 1699.6,260.3 1697.6,262.6 1695.5,266.6 1693.4,266.8 1691.3,268.6 1689.2,269.5 1687.2,270.2 1685.1,271.3 1683.0,273.0 1680.9,274.5 1678.9,275.9 1676.8,276.7 1674.7,278.4 1672.6,278.5 1670.5,280.4 1668.5,281.3 1666.4,282.3 1664.3,283.1 1662.2,283.8 1660.1,283.6 1658.1,284.0 1656.0,284.3 1653.9,284.6 1651.8,285.7 1649.8,286.2 1647.7,286.5 1645.6,288.0 1643.5,289.2 1641.4,289.7 1639.4,290.8 1637.3,292.0 1635.2,293.6 1633.1,294.8 1631.0,296.1 1629.0,297.0 1626.9,298.1 1624.8,299.2 1622.7,300.8 1620.7,301.3 1618.6,302.0 1616.5,303.1 1614.4,304.1 1612.3,305.4 1610.3,306.6 1608.2,307.7 1606.1,309.8 1604.0,311.8 1601.9,315.5 1599.9,317.1 1597.8,319.4 1595.7,321.3 1593.6,323.7 1591.6,325.8 1589.5,329.0 1587.4,330.6 1585.3,331.6 1583.2,333.0 1581.2,333.0 1579.1,334.1 1577.0,335.0 1574.9,336.0 1572.8,336.5 1570.8,337.7 1568.7,337.9 1566.6,338.9 1564.5,341.1 1562.5,343.4 1560.4,345.1 1558.3,347.0 1556.2,349.2 1554.1,351.9 1552.1,353.5 1550.0,355.0 1547.9,356.5 1545.8,356.7 1543.7,357.2 1541.7,358.7 1539.6,360.7 1537.5,362.6 1535.4,364.2 1533.3,365.5 1531.3,364.9 1529.2,367.5 1527.1,368.7 1525.0,370.0 1523.0,371.5 1520.9,372.2 1518.8,373.8 1516.7,375.2 1514.6,377.4 1512.6,379.0 1510.5,379.3 1508.4,380.8 1506.3,380.8 1504.2,381.8 1502.2,382.5 1500.1,384.0 1498.0,385.3 1495.9,386.6 1493.9,387.4 1491.8,388.5 1489.7,388.6 1487.6,387.7 1485.5,387.7 1483.5,387.7 1481.4,388.0 1479.3,388.5 1477.2,388.5 1475.1,388.5 1473.1,388.5 1471.0,388.5 1468.9,388.4 1466.8,388.4 1464.8,388.4 1462.7,388.1 1460.6,387.9 1458.5,387.9 1456.4,388.0 1454.4,387.6 1452.3,388.0 1450.2,388.2 1448.1,389.3 1446.0,390.2 1444.0,392.3 1441.9,393.2 1439.8,394.5 1437.7,394.7 1435.7,396.5 1433.6,397.6 1431.5,398.0 1429.4,400.1 1427.3,402.4 1425.3,403.5 1423.2,406.4 1421.1,407.3 1419.0,411.4 1416.9,413.6 1414.9,414.9 1412.8,417.6 1410.7,420.0 1408.6,422.2 1406.6,426.1 1404.5,427.6 1402.4,428.0 1400.3,429.9 1398.2,432.8 1396.2,434.5 1394.1,436.0 1392.0,437.9 1389.9,440.7 1387.8,444.8 1385.8,447.6 1383.7,450.0 1381.6,453.1 1379.5,457.5 1377.5,461.8 1375.4,464.2 1373.3,465.4 1371.2,470.7 1369.1,475.6 1367.1,480.3 1365.0,484.4 1362.9,488.9 1360.8,492.3 1358.7,496.9 1356.7,499.1 1354.6,501.2 1352.5,503.0 1350.4,505.0 1348.4,508.7 1346.3,509.8 1344.2,513.5 1342.1,516.0 1340.0,519.9 1338.0,527.9 1335.9,531.4 1333.8,537.0 1331.7,545.5 1329.6,576.2 1327.6,604.3 1325.5,604.3" fill="#808080" fill-opacity="0.2"/>
<line x1="1325.5" y1="604.3" x2="1741.2" y2="199.8" stroke="#979797" stroke-width="2.8" stroke-dasharray="10 4.4"/>
<polyline points="1325.5,604.3 1327.8,580.0 1330.1,544.8 1331.7,516.9 1334.6,505.2 1338.4,498.3 1344.2,491.4 1350.0,487.8 1355.8,482.1 1360.4,472.4 1365.0,460.7 1370.0,449.4 1373.3,440.1 1390.3,420.7 1405.3,406.9 1424.8,385.9 1438.6,378.2 1450.6,372.9 1491.4,372.9 1500.1,368.5 1513.4,358.8 1526.3,350.3 1539.6,342.2 1552.9,332.5 1565.8,320.8 1579.1,314.3 1589.1,307.4 1598.6,297.7 1608.6,289.6 1618.6,284.8 1628.6,279.5 1640.2,272.6 1652.2,269.8 1664.7,267.4 1674.7,262.9 1684.3,255.2 1694.2,246.7 1704.2,235.8 1711.7,225.7 1719.2,218.4 1726.2,214.8 1733.7,215.2 1741.2,199.8" fill="none" stroke="#4b5ca6" stroke-width="4.7" stroke-linejoin="round" stroke-linecap="square"/>
</g>
<rect x="1304.7" y="179.6" width="457.3" height="444.9" fill="none" stroke="#231f20" stroke-width="2.5"/>
<line x1="1295.2" y1="604.3" x2="1304.7" y2="604.3" stroke="#231f20" stroke-width="2"/>
<line x1="1295.2" y1="523.4" x2="1304.7" y2="523.4" stroke="#231f20" stroke-width="2"/>
<line x1="1295.2" y1="442.5" x2="1304.7" y2="442.5" stroke="#231f20" stroke-width="2"/>
<line x1="1295.2" y1="361.6" x2="1304.7" y2="361.6" stroke="#231f20" stroke-width="2"/>
<line x1="1295.2" y1="280.7" x2="1304.7" y2="280.7" stroke="#231f20" stroke-width="2"/>
<line x1="1295.2" y1="199.8" x2="1304.7" y2="199.8" stroke="#231f20" stroke-width="2"/>
<line x1="1325.5" y1="624.5" x2="1325.5" y2="634.0" stroke="#231f20" stroke-width="2"/>
<line x1="1429.4" y1="624.5" x2="1429.4" y2="634.0" stroke="#231f20" stroke-width="2"/>
<line x1="1533.3" y1="624.5" x2="1533.3" y2="634.0" stroke="#231f20" stroke-width="2"/>
<line x1="1637.3" y1="624.5" x2="1637.3" y2="634.0" stroke="#231f20" stroke-width="2"/>
<line x1="1741.2" y1="624.5" x2="1741.2" y2="634.0" stroke="#231f20" stroke-width="2"/>
<defs><clipPath id="clipA"><rect x="114.0" y="184.4" width="457.0" height="445.0"/></clipPath><clipPath id="clipB"><rect x="719.5" y="184.5" width="456.5" height="444.5"/></clipPath><clipPath id="clipC"><rect x="1304.7" y="179.6" width="457.3" height="444.9"/></clipPath></defs>
<text transform="translate(832.26,40.00) scale(1,1.07)" font-size="53.86" font-weight="bold" fill="#231f20">RISK6</text>
<line x1="40.8" y1="61.3" x2="1757.9" y2="61.3" stroke="#0e0c0d" stroke-width="2.6"/>
<text x="7.48" y="139.00" font-size="62.61" font-weight="bold" fill="#231f20">A</text>
<text transform="translate(619.39,138.70) scale(1,1.045)" font-size="57.87" font-weight="bold" fill="#231f20">B</text>
<text x="263.21" y="164.80" font-size="49.76" font-weight="bold" fill="#231f20">all GC6</text>
<text x="740.20" y="164.40" font-size="49.95" font-weight="bold" fill="#231f20">GC6 adolescents</text>
<text x="1407.11" y="165.10" font-size="49.85" font-weight="bold" fill="#231f20">GC6 adults</text>
<text transform="translate(206.38,601.00) scale(1,1.05)" font-size="47.98" font-weight="bold" fill="#6366b4">0.70 (0.64, 0.75)</text>
<text transform="translate(813.88,601.00) scale(1,1.05)" font-size="47.93" font-weight="bold" fill="#6366b4">0.80 (0.74, 0.85)</text>
<text transform="translate(1397.98,602.20) scale(1,1.05)" font-size="48.00" font-weight="bold" fill="#6366b4">0.64 (0.57, 0.72)</text>
<text transform="translate(46.34,217.07) scale(1,1.06)" font-size="34.5" fill="#231f20">1.0</text>
<text transform="translate(46.51,296.49) scale(1,1.06)" font-size="34.5" fill="#231f20">0.8</text>
<text transform="translate(46.51,375.91) scale(1,1.06)" font-size="34.5" fill="#231f20">0.6</text>
<text transform="translate(45.99,455.33) scale(1,1.06)" font-size="34.5" fill="#231f20">0.4</text>
<text transform="translate(46.77,534.75) scale(1,1.06)" font-size="34.5" fill="#231f20">0.2</text>
<text transform="translate(46.34,614.17) scale(1,1.06)" font-size="34.5" fill="#231f20">0.0</text>
<text transform="translate(656.64,218.97) scale(1,1.06)" font-size="34.5" fill="#231f20">1.0</text>
<text transform="translate(656.81,298.25) scale(1,1.06)" font-size="34.5" fill="#231f20">0.8</text>
<text transform="translate(656.81,377.53) scale(1,1.06)" font-size="34.5" fill="#231f20">0.6</text>
<text transform="translate(656.29,456.81) scale(1,1.06)" font-size="34.5" fill="#231f20">0.4</text>
<text transform="translate(657.07,536.09) scale(1,1.06)" font-size="34.5" fill="#231f20">0.2</text>
<text transform="translate(656.64,615.37) scale(1,1.06)" font-size="34.5" fill="#231f20">0.0</text>
<text transform="translate(1237.54,220.17) scale(1,1.06)" font-size="34.5" fill="#231f20">1.0</text>
<text transform="translate(1237.71,299.39) scale(1,1.06)" font-size="34.5" fill="#231f20">0.8</text>
<text transform="translate(1237.71,378.61) scale(1,1.06)" font-size="34.5" fill="#231f20">0.6</text>
<text transform="translate(1237.19,457.83) scale(1,1.06)" font-size="34.5" fill="#231f20">0.4</text>
<text transform="translate(1237.97,537.05) scale(1,1.06)" font-size="34.5" fill="#231f20">0.2</text>
<text transform="translate(1237.54,616.27) scale(1,1.06)" font-size="34.5" fill="#231f20">0.0</text>
<text transform="translate(114.43,674.03) scale(1,1.06)" font-size="34.5" fill="#231f20">0.0</text>
<text transform="translate(201.75,674.03) scale(1,1.06)" font-size="34.5" fill="#231f20">0.25</text>
<text transform="translate(306.41,674.03) scale(1,1.06)" font-size="34.5" fill="#231f20">0.50</text>
<text transform="translate(407.15,674.03) scale(1,1.06)" font-size="34.5" fill="#231f20">0.75</text>
<text transform="translate(520.08,674.03) scale(1,1.06)" font-size="34.5" fill="#231f20">1.0</text>
<text transform="translate(724.93,675.03) scale(1,1.06)" font-size="34.5" fill="#231f20">0.0</text>
<text transform="translate(812.35,675.03) scale(1,1.06)" font-size="34.5" fill="#231f20">0.25</text>
<text transform="translate(916.71,675.03) scale(1,1.06)" font-size="34.5" fill="#231f20">0.50</text>
<text transform="translate(1017.45,675.03) scale(1,1.06)" font-size="34.5" fill="#231f20">0.75</text>
<text transform="translate(1130.98,675.03) scale(1,1.06)" font-size="34.5" fill="#231f20">1.0</text>
<text transform="translate(1305.28,676.23) scale(1,1.06)" font-size="34.5" fill="#231f20">0.0</text>
<text transform="translate(1392.80,676.23) scale(1,1.06)" font-size="34.5" fill="#231f20">0.25</text>
<text transform="translate(1497.56,676.23) scale(1,1.06)" font-size="34.5" fill="#231f20">0.50</text>
<text transform="translate(1598.65,676.23) scale(1,1.06)" font-size="34.5" fill="#231f20">0.75</text>
<text transform="translate(1711.68,676.23) scale(1,1.06)" font-size="34.5" fill="#231f20">1.0</text>
<text x="188.08" y="718.70" font-size="41.09" font-weight="normal" fill="#231f20">false positive rate</text>
<text x="797.28" y="718.70" font-size="41.13" font-weight="normal" fill="#231f20">false positive rate</text>
<text x="1378.28" y="720.70" font-size="41.13" font-weight="normal" fill="#231f20">false positive rate</text>
<text transform="translate(29.80,561.62) rotate(-90)" font-size="41.05" font-weight="normal" fill="#231f20">true positive rate</text>
<text transform="translate(641.20,562.42) rotate(-90)" font-size="41.01" font-weight="normal" fill="#231f20">true positive rate</text>
<text transform="translate(1220.80,563.51) rotate(-90)" font-size="41.00" font-weight="normal" fill="#231f20">true positive rate</text>
</svg></body></html>
